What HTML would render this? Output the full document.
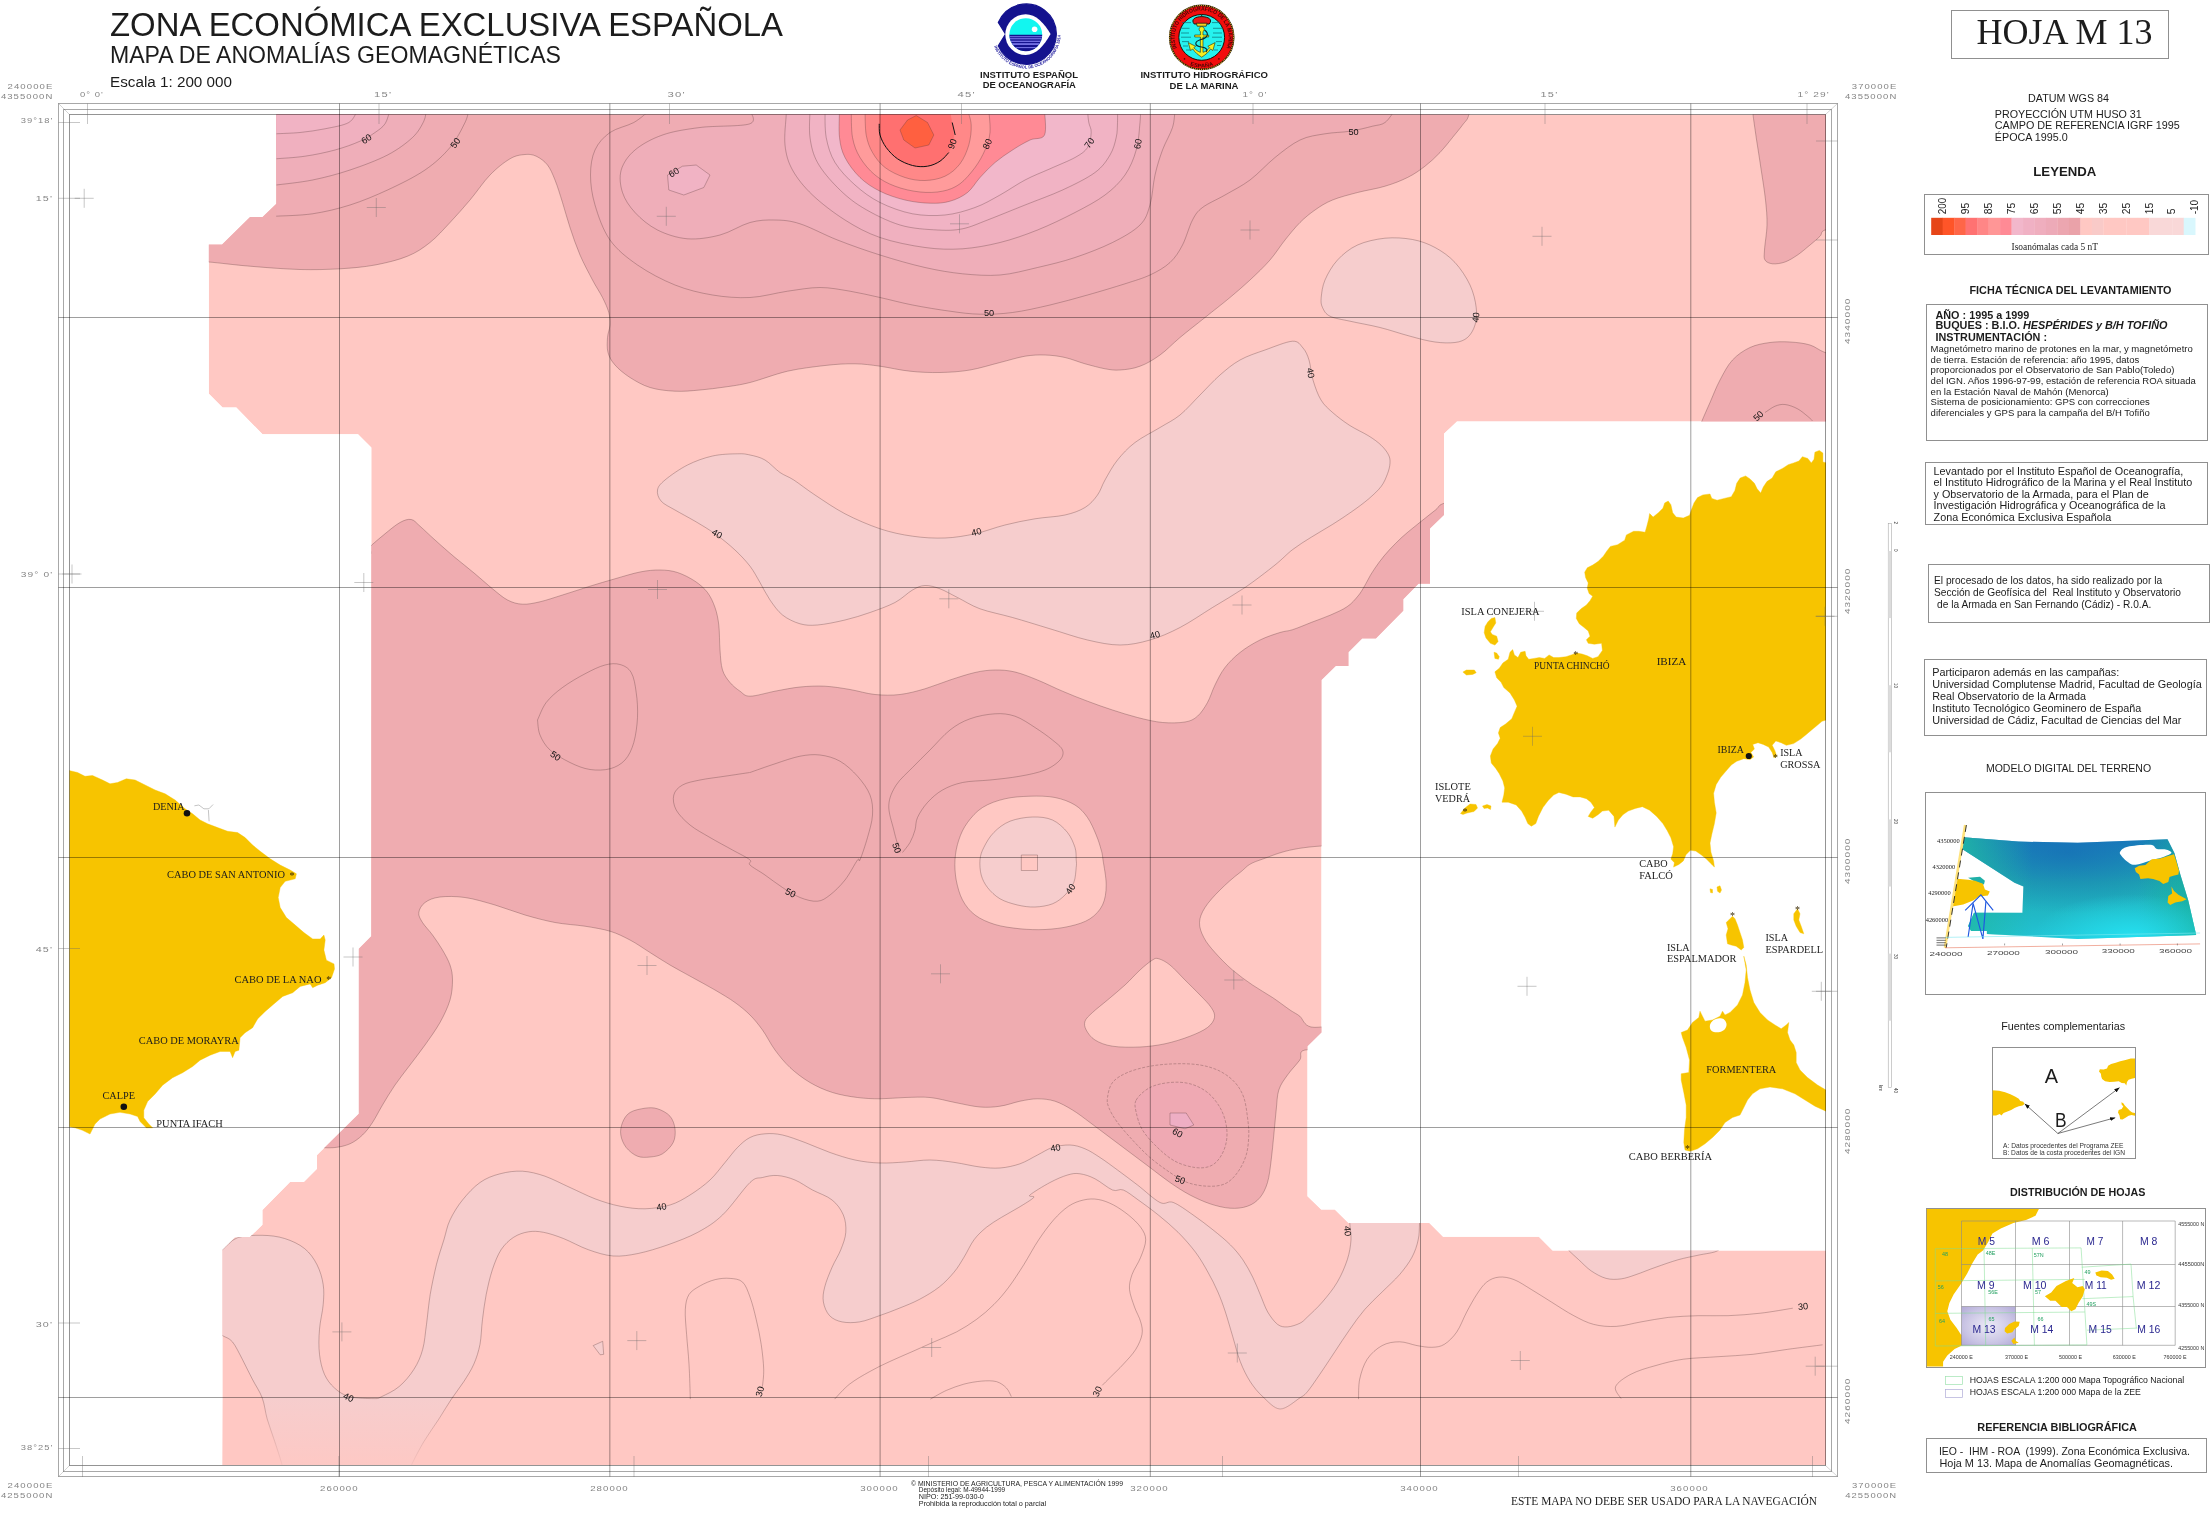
<!DOCTYPE html>
<html><head><meta charset="utf-8"><title>ZEE M13</title>
<style>
html,body{margin:0;padding:0;background:#fff;}
body{width:2210px;height:1519px;overflow:hidden;font-family:"Liberation Sans",sans-serif;}
svg{position:absolute;left:0;top:0;display:block;will-change:transform}
text{font-family:"Liberation Sans",sans-serif;fill:#1c1c1c}
.se{font-family:"Liberation Serif",serif}
.g{fill:#858585;font-size:8px;letter-spacing:0.9px}
.cl{font-size:9.2px;fill:#111}
.b{font-weight:bold}
</style></head><body>
<svg width="2210" height="1519" viewBox="0 0 2210 1519">
<defs>
<clipPath id="cov"><path d="M276.3,114.5 L1826.0,114.5 L1826.0,421.5 L1457.0,421.5 L1444.0,433.7 L1444.0,514.9 L1430.0,528.6 L1430.0,583.8 L1418.5,583.8 L1403.3,599.2 L1403.3,610.7 L1375.9,638.6 L1362.2,638.6 L1348.5,652.3 L1348.5,666.0 L1335.8,666.0 L1321.5,680.0 L1321.5,1032.5 L1307.5,1046.2 L1307.5,1196.2 L1321.2,1209.4 L1334.8,1209.4 L1348.5,1223.1 L1429.4,1223.1 L1443.1,1236.8 L1538.9,1236.8 L1552.6,1250.5 L1826.0,1250.5 L1826.0,1465.0 L222.4,1465.0 L222.4,1249.7 L234.8,1237.3 L249.8,1237.0 L262.4,1224.8 L262.4,1210.0 L290.0,1182.0 L303.8,1182.0 L317.0,1168.8 L317.0,1155.0 L358.8,1113.8 L358.8,948.8 L371.2,936.2 L371.3,447.5 L358.0,434.3 L262.5,434.3 L236.3,407.5 L222.5,407.5 L208.8,393.8 L208.8,244.5 L222.0,244.5 L250.0,217.0 L262.5,217.0 L276.3,203.8Z"/></clipPath>
<clipPath id="inner"><rect x="69.5" y="114.5" width="1756.5" height="1351"/></clipPath>
<linearGradient id="fade" x1="0" y1="0" x2="0" y2="1"><stop offset="0" stop-color="#FFC8C3" stop-opacity="0"/><stop offset="1" stop-color="#FFC8C3" stop-opacity="0.85"/></linearGradient>
</defs>
<rect width="2210" height="1519" fill="#fff"/>

<g clip-path="url(#cov)">
<path d="M276.3,114.5 L1826.0,114.5 L1826.0,421.5 L1457.0,421.5 L1444.0,433.7 L1444.0,514.9 L1430.0,528.6 L1430.0,583.8 L1418.5,583.8 L1403.3,599.2 L1403.3,610.7 L1375.9,638.6 L1362.2,638.6 L1348.5,652.3 L1348.5,666.0 L1335.8,666.0 L1321.5,680.0 L1321.5,1032.5 L1307.5,1046.2 L1307.5,1196.2 L1321.2,1209.4 L1334.8,1209.4 L1348.5,1223.1 L1429.4,1223.1 L1443.1,1236.8 L1538.9,1236.8 L1552.6,1250.5 L1826.0,1250.5 L1826.0,1465.0 L222.4,1465.0 L222.4,1249.7 L234.8,1237.3 L249.8,1237.0 L262.4,1224.8 L262.4,1210.0 L290.0,1182.0 L303.8,1182.0 L317.0,1168.8 L317.0,1155.0 L358.8,1113.8 L358.8,948.8 L371.2,936.2 L371.3,447.5 L358.0,434.3 L262.5,434.3 L236.3,407.5 L222.5,407.5 L208.8,393.8 L208.8,244.5 L222.0,244.5 L250.0,217.0 L262.5,217.0 L276.3,203.8Z" fill="#FFC8C3"/>
<path d="M190.0,90.0 C403.1,90.0 1255.6,85.9 1468.8,90.0 C1681.9,94.1 1469.8,108.7 1468.8,114.5 C1467.7,120.3 1465.2,121.2 1462.5,125.0 C1459.8,128.8 1456.2,132.9 1452.5,137.5 C1448.8,142.1 1444.6,147.7 1440.0,152.5 C1435.4,157.3 1430.4,162.1 1425.0,166.2 C1419.6,170.4 1414.2,174.2 1407.5,177.5 C1400.8,180.8 1393.3,183.8 1385.0,186.2 C1376.7,188.8 1366.2,190.2 1357.5,192.5 C1348.8,194.8 1339.6,197.1 1332.5,200.0 C1325.4,202.9 1320.4,206.2 1315.0,210.0 C1309.6,213.8 1305.0,217.5 1300.0,222.5 C1295.0,227.5 1290.0,233.8 1285.0,240.0 C1280.0,246.2 1275.8,253.3 1270.0,260.0 C1264.2,266.7 1256.7,273.8 1250.0,280.0 C1243.3,286.2 1237.5,291.2 1230.0,297.5 C1222.5,303.8 1213.3,310.8 1205.0,317.5 C1196.7,324.2 1187.5,331.2 1180.0,337.5 C1172.5,343.8 1166.7,350.2 1160.0,355.0 C1153.3,359.8 1146.7,363.8 1140.0,366.2 C1133.3,368.8 1125.8,369.6 1120.0,370.0 C1114.2,370.4 1110.8,369.8 1105.0,368.8 C1099.2,367.7 1091.7,365.6 1085.0,363.8 C1078.3,361.9 1071.7,359.0 1065.0,357.5 C1058.3,356.0 1051.7,355.2 1045.0,355.0 C1038.3,354.8 1032.5,355.0 1025.0,356.2 C1017.5,357.5 1009.2,360.2 1000.0,362.5 C990.8,364.8 980.0,368.3 970.0,370.0 C960.0,371.7 950.0,372.3 940.0,372.5 C930.0,372.7 920.0,372.3 910.0,371.2 C900.0,370.2 889.2,367.5 880.0,366.2 C870.8,365.0 864.2,363.9 855.0,363.8 C845.8,363.6 836.2,364.2 825.0,365.5 C813.8,366.8 800.0,368.4 787.5,371.2 C775.0,374.1 760.4,379.9 750.0,382.5 C739.6,385.1 733.3,385.8 725.0,387.0 C716.7,388.2 708.3,389.3 700.0,390.0 C691.7,390.7 683.3,391.7 675.0,391.2 C666.7,390.8 657.5,389.8 650.0,387.5 C642.5,385.2 635.8,381.2 630.0,377.5 C624.2,373.8 618.7,369.2 615.0,365.0 C611.3,360.8 609.2,357.1 608.0,352.5 C606.8,347.9 607.2,342.1 607.5,337.5 C607.8,332.9 609.8,329.2 610.0,325.0 C610.2,320.8 610.0,317.1 608.8,312.5 C607.5,307.9 605.2,302.9 602.5,297.5 C599.8,292.1 596.2,287.1 592.5,280.0 C588.8,272.9 583.8,263.8 580.0,255.0 C576.2,246.2 572.9,236.2 570.0,227.5 C567.1,218.8 565.0,210.4 562.5,202.5 C560.0,194.6 557.5,186.2 555.0,180.0 C552.5,173.8 550.6,169.0 547.5,165.0 C544.4,161.0 540.0,158.0 536.2,156.2 C532.5,154.5 529.4,154.1 525.0,154.5 C520.6,154.9 515.8,155.3 510.0,158.8 C504.2,162.2 496.7,168.1 490.0,175.0 C483.3,181.9 476.7,192.1 470.0,200.0 C463.3,207.9 456.7,215.4 450.0,222.5 C443.3,229.6 437.1,236.9 430.0,242.5 C422.9,248.1 416.7,252.5 407.5,256.2 C398.3,260.0 386.2,262.9 375.0,265.0 C363.8,267.1 352.5,268.0 340.0,268.8 C327.5,269.5 315.0,269.9 300.0,269.5 C285.0,269.1 265.2,267.5 250.0,266.2 C234.8,265.0 218.8,262.8 208.8,262.0 C198.8,261.2 193.1,261.4 190.0,261.2Z" fill="#EFACB0" stroke="#5a3a3a" stroke-opacity="0.55" stroke-width="0.6"/>
<path d="M357.5,557.5 C379.4,557.6 366.7,549.5 371.2,545.5 C375.8,541.5 380.2,537.6 385.0,533.8 C389.8,529.9 395.6,524.9 400.0,522.5 C404.4,520.1 407.9,518.9 411.2,519.5 C414.6,520.1 416.0,522.8 420.0,526.2 C424.0,529.7 429.2,534.8 435.0,540.0 C440.8,545.2 448.3,551.9 455.0,557.5 C461.7,563.1 468.8,568.5 475.0,573.8 C481.2,579.0 487.1,584.4 492.5,588.8 C497.9,593.1 502.5,597.4 507.5,600.0 C512.5,602.6 517.1,604.0 522.5,604.2 C527.9,604.5 533.3,603.3 540.0,601.8 C546.7,600.2 554.2,597.6 562.5,595.0 C570.8,592.4 581.2,589.0 590.0,586.2 C598.8,583.5 606.7,581.1 615.0,578.8 C623.3,576.4 632.5,573.5 640.0,572.0 C647.5,570.5 653.8,569.9 660.0,570.0 C666.2,570.1 671.7,570.6 677.5,572.5 C683.3,574.4 690.0,577.9 695.0,581.2 C700.0,584.6 704.2,588.1 707.5,592.5 C710.8,596.9 713.1,602.1 715.0,607.5 C716.9,612.9 717.9,617.9 718.8,625.0 C719.6,632.1 719.4,642.5 720.0,650.0 C720.6,657.5 720.8,664.6 722.5,670.0 C724.2,675.4 727.1,679.0 730.0,682.5 C732.9,686.0 736.7,689.0 740.0,691.2 C743.3,693.5 744.2,696.2 750.0,696.2 C755.8,696.2 766.7,692.8 775.0,691.2 C783.3,689.7 791.7,687.8 800.0,687.0 C808.3,686.2 816.7,685.8 825.0,686.2 C833.3,686.7 841.7,688.1 850.0,689.5 C858.3,690.9 866.7,693.7 875.0,694.5 C883.3,695.3 891.7,695.5 900.0,694.5 C908.3,693.5 916.7,691.2 925.0,688.8 C933.3,686.3 941.7,682.7 950.0,680.0 C958.3,677.3 967.5,674.2 975.0,672.5 C982.5,670.8 988.3,670.1 995.0,670.0 C1001.7,669.9 1007.9,670.3 1015.0,672.0 C1022.1,673.7 1029.6,676.8 1037.5,680.0 C1045.4,683.2 1054.2,687.7 1062.5,691.2 C1070.8,694.8 1079.2,698.1 1087.5,701.2 C1095.8,704.4 1104.2,707.3 1112.5,710.0 C1120.8,712.7 1129.2,715.4 1137.5,717.5 C1145.8,719.6 1154.6,721.8 1162.5,722.5 C1170.4,723.2 1179.2,723.0 1185.0,722.0 C1190.8,721.0 1193.8,719.5 1197.5,716.2 C1201.2,713.0 1204.6,707.7 1207.5,702.5 C1210.4,697.3 1212.1,690.8 1215.0,685.0 C1217.9,679.2 1220.8,672.9 1225.0,667.5 C1229.2,662.1 1234.2,657.1 1240.0,652.5 C1245.8,647.9 1253.3,643.3 1260.0,640.0 C1266.7,636.7 1274.6,634.2 1280.0,632.5 C1285.4,630.8 1287.4,631.4 1292.6,629.7 C1297.9,628.0 1305.3,624.8 1311.6,622.3 C1317.9,619.9 1324.6,617.6 1330.6,615.0 C1336.6,612.3 1342.9,609.7 1347.4,606.5 C1352.0,603.4 1355.2,599.3 1358.0,596.0 C1360.8,592.7 1362.2,590.0 1364.3,586.5 C1366.4,583.0 1368.2,579.0 1370.6,574.9 C1373.1,570.9 1375.9,566.5 1379.1,562.3 C1382.2,558.1 1385.7,553.8 1389.6,549.6 C1393.5,545.4 1398.0,540.9 1402.2,537.0 C1406.4,533.1 1411.0,529.6 1414.9,526.4 C1418.7,523.3 1421.9,520.8 1425.4,518.0 C1428.9,515.2 1432.9,512.0 1436.0,509.6 C1439.0,507.1 1438.3,505.0 1444.0,503.3 C1449.6,501.5 1463.7,499.6 1469.7,499.1 C1475.7,498.5 1478.3,442.2 1480.0,500.0 C1481.7,557.8 1506.4,788.3 1480.0,846.0 C1453.6,903.7 1358.2,843.7 1321.5,846.0 C1284.8,848.3 1273.6,855.6 1260.0,860.0 C1246.4,864.4 1246.7,867.5 1240.0,872.5 C1233.3,877.5 1225.8,884.2 1220.0,890.0 C1214.2,895.8 1208.4,902.1 1205.0,907.5 C1201.6,912.9 1199.7,917.5 1199.5,922.5 C1199.3,927.5 1201.2,932.5 1203.8,937.5 C1206.3,942.5 1210.2,947.1 1215.0,952.5 C1219.8,957.9 1226.2,964.6 1232.5,970.0 C1238.8,975.4 1245.8,980.4 1252.5,985.0 C1259.2,989.6 1266.2,993.3 1272.5,997.5 C1278.8,1001.7 1285.5,1006.9 1290.0,1010.0 C1294.5,1013.1 1296.2,1013.4 1299.8,1016.2 C1303.2,1019.1 1303.5,1025.2 1311.0,1027.0 C1318.5,1028.8 1339.3,1023.2 1345.0,1027.0 C1350.7,1030.8 1351.7,1046.2 1345.0,1050.0 C1338.3,1053.8 1312.5,1048.3 1305.0,1050.0 C1297.5,1051.7 1302.7,1055.8 1299.8,1060.0 C1296.8,1064.2 1291.0,1070.0 1287.5,1075.0 C1284.0,1080.0 1280.6,1084.2 1278.8,1090.0 C1276.9,1095.8 1277.1,1102.5 1276.2,1110.0 C1275.4,1117.5 1274.6,1126.7 1273.8,1135.0 C1272.9,1143.3 1272.3,1152.1 1271.2,1160.0 C1270.2,1167.9 1269.4,1176.2 1267.5,1182.5 C1265.6,1188.8 1263.3,1193.5 1260.0,1197.5 C1256.7,1201.5 1252.5,1204.5 1247.5,1206.2 C1242.5,1208.0 1236.2,1208.7 1230.0,1208.2 C1223.8,1207.8 1216.7,1206.0 1210.0,1203.8 C1203.3,1201.5 1196.7,1198.5 1190.0,1195.0 C1183.3,1191.5 1176.7,1187.1 1170.0,1182.5 C1163.3,1177.9 1156.7,1172.5 1150.0,1167.5 C1143.3,1162.5 1136.7,1157.5 1130.0,1152.5 C1123.3,1147.5 1116.7,1142.5 1110.0,1137.5 C1103.3,1132.5 1096.2,1127.1 1090.0,1122.5 C1083.8,1117.9 1078.3,1113.5 1072.5,1110.0 C1066.7,1106.5 1060.8,1103.1 1055.0,1101.2 C1049.2,1099.4 1043.3,1098.8 1037.5,1098.8 C1031.7,1098.8 1026.2,1100.0 1020.0,1101.2 C1013.8,1102.5 1006.7,1105.3 1000.0,1106.2 C993.3,1107.2 987.5,1107.6 980.0,1107.0 C972.5,1106.4 963.3,1104.1 955.0,1102.5 C946.7,1100.9 938.3,1098.3 930.0,1097.5 C921.7,1096.7 913.3,1097.3 905.0,1097.5 C896.7,1097.7 887.9,1098.8 880.0,1098.8 C872.1,1098.8 865.4,1098.5 857.5,1097.5 C849.6,1096.5 840.4,1095.0 832.5,1092.5 C824.6,1090.0 817.1,1086.7 810.0,1082.5 C802.9,1078.3 795.8,1072.9 790.0,1067.5 C784.2,1062.1 779.6,1056.2 775.0,1050.0 C770.4,1043.8 766.7,1035.8 762.5,1030.0 C758.3,1024.2 754.6,1019.6 750.0,1015.0 C745.4,1010.4 740.8,1006.7 735.0,1002.5 C729.2,998.3 722.1,994.2 715.0,990.0 C707.9,985.8 700.0,981.7 692.5,977.5 C685.0,973.3 677.1,969.2 670.0,965.0 C662.9,960.8 656.7,956.7 650.0,952.5 C643.3,948.3 636.7,943.5 630.0,940.0 C623.3,936.5 617.5,933.5 610.0,931.2 C602.5,929.0 594.2,927.7 585.0,926.2 C575.8,924.8 565.0,924.4 555.0,922.5 C545.0,920.6 535.0,917.9 525.0,915.0 C515.0,912.1 505.0,907.9 495.0,905.0 C485.0,902.1 474.2,898.8 465.0,897.5 C455.8,896.2 446.7,896.2 440.0,897.0 C433.3,897.8 428.5,899.9 425.0,902.5 C421.5,905.1 419.2,909.2 418.8,912.5 C418.3,915.8 420.2,918.8 422.5,922.5 C424.8,926.2 429.2,930.4 432.5,935.0 C435.8,939.6 439.6,945.0 442.5,950.0 C445.4,955.0 448.3,960.0 450.0,965.0 C451.7,970.0 452.5,974.2 452.5,980.0 C452.5,985.8 452.1,992.9 450.0,1000.0 C447.9,1007.1 444.2,1015.0 440.0,1022.5 C435.8,1030.0 430.0,1037.9 425.0,1045.0 C420.0,1052.1 415.0,1058.3 410.0,1065.0 C405.0,1071.7 399.6,1078.3 395.0,1085.0 C390.4,1091.7 386.2,1098.8 382.5,1105.0 C378.8,1111.2 375.8,1117.5 372.5,1122.5 C369.2,1127.5 366.2,1131.5 362.5,1135.0 C358.8,1138.5 354.6,1141.7 350.0,1143.8 C345.4,1145.8 340.4,1146.9 335.0,1147.5 C329.6,1148.1 320.4,1147.5 317.5,1147.5 C314.6,1147.5 330.4,1147.5 317.5,1147.5 C304.6,1147.5 252.9,1147.5 240.0,1147.5 C227.1,1147.5 240.0,1247.9 240.0,1147.5 C240.0,1047.1 240.0,645.4 240.0,545.0 C240.0,444.6 220.4,542.9 240.0,545.0 C259.6,547.1 335.6,557.4 357.5,557.5Z" fill="#EFACB0" stroke="#5a3a3a" stroke-opacity="0.55" stroke-width="0.6"/>
<path d="M1753.0,110.0 C1753.0,110.8 1752.5,109.9 1753.0,114.5 C1753.5,119.1 1754.9,128.2 1756.2,137.5 C1757.6,146.8 1759.7,159.6 1761.2,170.0 C1762.8,180.4 1764.5,190.8 1765.5,200.0 C1766.5,209.2 1767.2,216.7 1767.0,225.0 C1766.8,233.3 1764.8,244.2 1764.5,250.0 C1764.2,255.8 1763.7,257.7 1765.0,260.0 C1766.3,262.3 1769.2,263.4 1772.5,263.8 C1775.8,264.1 1780.8,263.5 1785.0,262.0 C1789.2,260.5 1793.3,257.8 1797.5,255.0 C1801.7,252.2 1806.2,248.1 1810.0,245.0 C1813.8,241.9 1817.5,238.8 1820.0,236.2 C1822.5,233.8 1820.0,231.9 1825.0,230.0 C1830.0,228.1 1845.8,245.0 1850.0,225.0 C1854.2,205.0 1850.0,129.2 1850.0,110.0Z" fill="#EFACB0" stroke="#5a3a3a" stroke-opacity="0.55" stroke-width="0.6"/>
<path d="M1697.5,432.5 C1698.2,430.5 1699.9,425.8 1702.0,420.8 C1704.1,415.8 1707.0,409.3 1710.0,402.5 C1713.0,395.7 1716.2,387.1 1720.0,380.0 C1723.8,372.9 1727.5,365.4 1732.5,360.0 C1737.5,354.6 1743.8,350.4 1750.0,347.5 C1756.2,344.6 1763.3,343.4 1770.0,342.5 C1776.7,341.6 1783.3,341.6 1790.0,342.0 C1796.7,342.4 1804.2,343.2 1810.0,345.0 C1815.8,346.8 1818.3,350.0 1825.0,352.5 C1831.7,355.0 1845.8,346.7 1850.0,360.0 C1854.2,373.3 1850.0,420.4 1850.0,432.5Z" fill="#EFACB0" stroke="#5a3a3a" stroke-opacity="0.55" stroke-width="0.6"/>
<path d="M622.5,1122.5 C624.0,1118.8 626.2,1114.9 630.0,1112.5 C633.8,1110.1 640.4,1108.9 645.0,1108.2 C649.6,1107.6 653.3,1107.4 657.5,1108.8 C661.7,1110.1 667.1,1112.9 670.0,1116.2 C672.9,1119.6 674.5,1124.4 675.0,1128.8 C675.5,1133.1 675.3,1138.3 673.2,1142.5 C671.2,1146.7 666.4,1151.3 662.5,1153.8 C658.6,1156.2 654.2,1156.6 650.0,1157.0 C645.8,1157.4 641.5,1157.8 637.5,1156.2 C633.5,1154.7 629.0,1151.0 626.2,1147.5 C623.5,1144.0 621.4,1139.2 620.8,1135.0 C620.1,1130.8 621.0,1126.2 622.5,1122.5Z" fill="#EFACB0" stroke="#5a3a3a" stroke-opacity="0.55" stroke-width="0.6"/>
<path d="M1158.8,958.8 C1161.7,959.6 1165.6,961.5 1170.0,965.0 C1174.4,968.5 1180.0,975.0 1185.0,980.0 C1190.0,985.0 1195.6,990.4 1200.0,995.0 C1204.4,999.6 1208.8,1003.8 1211.2,1007.5 C1213.7,1011.2 1215.1,1014.2 1214.5,1017.5 C1213.9,1020.8 1211.6,1024.4 1207.5,1027.5 C1203.4,1030.6 1197.1,1033.5 1190.0,1036.2 C1182.9,1039.0 1173.3,1042.0 1165.0,1043.8 C1156.7,1045.5 1148.8,1046.6 1140.0,1047.0 C1131.2,1047.4 1120.0,1047.4 1112.5,1046.2 C1105.0,1045.1 1099.4,1042.7 1095.0,1040.0 C1090.6,1037.3 1087.9,1033.1 1086.2,1030.0 C1084.6,1026.9 1084.0,1024.2 1085.0,1021.2 C1086.0,1018.3 1088.8,1016.0 1092.5,1012.5 C1096.2,1009.0 1102.1,1004.6 1107.5,1000.0 C1112.9,995.4 1119.6,990.0 1125.0,985.0 C1130.4,980.0 1135.4,974.2 1140.0,970.0 C1144.6,965.8 1149.4,961.9 1152.5,960.0 C1155.6,958.1 1155.8,957.9 1158.8,958.8Z" fill="#FFC8C3" stroke="#5a3a3a" stroke-opacity="0.55" stroke-width="0.6"/>
<path d="M955.0,859.8 C955.4,853.1 956.7,846.2 958.8,840.0 C960.8,833.8 963.5,827.9 967.5,822.5 C971.5,817.1 976.2,811.5 982.5,807.5 C988.8,803.5 997.1,800.6 1005.0,798.8 C1012.9,796.9 1021.7,796.5 1030.0,796.2 C1038.3,796.0 1047.5,796.0 1055.0,797.5 C1062.5,799.0 1069.6,801.7 1075.0,805.0 C1080.4,808.3 1084.0,812.5 1087.5,817.5 C1091.0,822.5 1094.0,829.6 1096.2,835.0 C1098.5,840.4 1100.1,845.9 1101.2,850.0 C1102.4,854.1 1102.2,853.9 1103.0,859.8 C1103.8,865.6 1106.3,877.5 1106.2,885.0 C1106.2,892.5 1105.2,899.4 1102.5,905.0 C1099.8,910.6 1095.4,915.2 1090.0,918.8 C1084.6,922.3 1077.5,924.5 1070.0,926.2 C1062.5,928.0 1053.3,929.1 1045.0,929.5 C1036.7,929.9 1028.3,929.6 1020.0,928.8 C1011.7,927.9 1002.5,926.8 995.0,924.5 C987.5,922.2 980.4,919.1 975.0,915.0 C969.6,910.9 965.6,905.8 962.5,900.0 C959.4,894.2 957.5,886.7 956.2,880.0 C955.0,873.3 954.6,866.4 955.0,859.8Z" fill="#FFC8C3" stroke="#5a3a3a" stroke-opacity="0.55" stroke-width="0.6"/>
<path d="M980.0,859.8 C980.4,855.2 981.5,852.0 983.8,847.5 C986.0,843.0 989.4,836.9 993.8,832.5 C998.1,828.1 1003.5,823.8 1010.0,821.2 C1016.5,818.7 1025.4,817.2 1032.5,817.0 C1039.6,816.8 1046.7,817.4 1052.5,820.0 C1058.3,822.6 1063.8,827.9 1067.5,832.5 C1071.2,837.1 1073.5,843.0 1075.0,847.5 C1076.5,852.0 1076.0,856.4 1076.2,859.8 C1076.5,863.1 1076.7,863.7 1076.2,867.5 C1075.8,871.3 1075.6,877.9 1073.8,882.5 C1071.9,887.1 1068.5,891.5 1065.0,895.0 C1061.5,898.5 1057.5,901.8 1052.5,903.8 C1047.5,905.8 1040.8,906.8 1035.0,907.0 C1029.2,907.2 1023.3,906.4 1017.5,905.0 C1011.7,903.6 1005.0,901.7 1000.0,898.8 C995.0,895.8 990.6,891.5 987.5,887.5 C984.4,883.5 982.5,879.6 981.2,875.0 C980.0,870.4 979.6,864.3 980.0,859.8Z" fill="#F6CDCD" stroke="#5a3a3a" stroke-opacity="0.55" stroke-width="0.6"/>
<path d="M1021.3,855.0 L1037.5,855.0 L1037.5,870.5 L1021.3,870.5Z" fill="#FFC8C3" stroke="#5a3a3a" stroke-opacity="0.55" stroke-width="0.6"/>
<path d="M657.5,490.0 C658.1,486.5 660.0,484.2 665.0,480.0 C670.0,475.8 679.6,469.0 687.5,465.0 C695.4,461.0 704.2,457.9 712.5,456.0 C720.8,454.1 731.2,453.9 737.5,453.8 C743.8,453.6 745.4,454.0 750.0,455.0 C754.6,456.0 760.0,457.1 765.0,460.0 C770.0,462.9 775.2,469.2 780.0,472.5 C784.8,475.8 787.9,476.2 793.8,480.0 C799.6,483.8 806.5,489.4 815.0,495.0 C823.5,500.6 834.2,508.1 845.0,513.8 C855.8,519.4 868.8,525.0 880.0,528.8 C891.2,532.5 901.7,534.7 912.5,536.2 C923.3,537.8 934.6,538.4 945.0,538.0 C955.4,537.6 965.0,535.9 975.0,533.8 C985.0,531.6 995.0,527.5 1005.0,525.0 C1015.0,522.5 1025.0,520.4 1035.0,518.8 C1045.0,517.1 1056.7,516.9 1065.0,515.0 C1073.3,513.1 1079.6,510.8 1085.0,507.5 C1090.4,504.2 1094.2,499.6 1097.5,495.0 C1100.8,490.4 1101.7,485.8 1105.0,480.0 C1108.3,474.2 1112.5,466.2 1117.5,460.0 C1122.5,453.8 1127.9,447.9 1135.0,442.5 C1142.1,437.1 1152.5,432.1 1160.0,427.5 C1167.5,422.9 1173.3,420.4 1180.0,415.0 C1186.7,409.6 1193.3,401.7 1200.0,395.0 C1206.7,388.3 1213.3,380.8 1220.0,375.0 C1226.7,369.2 1232.5,364.2 1240.0,360.0 C1247.5,355.8 1256.2,353.1 1265.0,350.0 C1273.8,346.9 1286.2,341.6 1292.5,341.2 C1298.8,340.9 1300.2,344.9 1303.0,348.0 C1305.8,351.1 1307.3,354.7 1309.0,360.0 C1310.7,365.3 1311.0,373.3 1313.0,380.0 C1315.0,386.7 1317.7,394.6 1321.0,400.0 C1324.3,405.4 1328.0,408.4 1332.7,412.6 C1337.5,416.8 1343.5,421.4 1349.5,425.3 C1355.5,429.2 1363.2,432.5 1368.5,435.8 C1373.8,439.1 1377.9,442.1 1381.2,445.3 C1384.5,448.5 1387.0,451.8 1388.5,454.8 C1390.0,457.8 1390.2,460.0 1390.0,463.2 C1389.8,466.4 1389.0,469.9 1387.5,473.8 C1386.0,477.7 1384.4,482.2 1381.2,486.4 C1378.0,490.6 1373.4,494.8 1368.5,499.0 C1363.6,503.2 1357.7,507.5 1351.7,511.7 C1345.7,515.9 1339.4,520.1 1332.7,524.3 C1326.0,528.5 1318.3,532.8 1311.6,537.0 C1304.9,541.2 1298.7,544.9 1292.6,549.6 C1286.5,554.3 1282.9,558.7 1275.0,565.0 C1267.1,571.3 1255.4,580.4 1245.0,587.5 C1234.6,594.6 1223.3,600.8 1212.5,607.5 C1201.7,614.2 1190.4,622.1 1180.0,627.5 C1169.6,632.9 1160.0,637.1 1150.0,640.0 C1140.0,642.9 1130.4,645.0 1120.0,645.0 C1109.6,645.0 1099.2,642.7 1087.5,640.0 C1075.8,637.3 1062.5,632.5 1050.0,628.8 C1037.5,625.0 1024.2,620.8 1012.5,617.5 C1000.8,614.2 989.2,612.1 980.0,608.8 C970.8,605.4 964.2,600.8 957.5,597.5 C950.8,594.2 945.4,590.8 940.0,588.8 C934.6,586.8 929.6,585.3 925.0,585.5 C920.4,585.7 917.5,587.2 912.5,590.0 C907.5,592.8 902.1,598.8 895.0,602.5 C887.9,606.2 878.3,609.6 870.0,612.5 C861.7,615.4 853.8,617.9 845.0,620.0 C836.2,622.1 825.0,624.4 817.5,625.0 C810.0,625.6 805.8,625.4 800.0,623.8 C794.2,622.1 787.5,619.0 782.5,615.0 C777.5,611.0 773.8,605.4 770.0,600.0 C766.2,594.6 763.3,588.1 760.0,582.5 C756.7,576.9 754.2,571.7 750.0,566.2 C745.8,560.8 740.8,555.4 735.0,550.0 C729.2,544.6 721.7,538.5 715.0,533.8 C708.3,529.0 701.7,525.2 695.0,521.2 C688.3,517.3 680.6,513.3 675.0,510.0 C669.4,506.7 664.2,504.6 661.2,501.2 C658.3,497.9 656.9,493.5 657.5,490.0Z" fill="#F6CDCD" stroke="#5a3a3a" stroke-opacity="0.55" stroke-width="0.6"/>
<path d="M1321.2,297.5 C1321.7,292.9 1322.3,286.2 1325.0,280.0 C1327.7,273.8 1332.1,265.8 1337.5,260.0 C1342.9,254.2 1349.6,248.6 1357.5,245.0 C1365.4,241.4 1375.8,239.2 1385.0,238.2 C1394.2,237.3 1404.2,238.0 1412.5,239.5 C1420.8,241.0 1427.9,243.7 1435.0,247.5 C1442.1,251.3 1449.2,256.2 1455.0,262.5 C1460.8,268.8 1466.5,277.5 1470.0,285.0 C1473.5,292.5 1475.4,300.8 1476.2,307.5 C1477.1,314.2 1476.5,320.0 1475.0,325.0 C1473.5,330.0 1470.8,334.6 1467.5,337.5 C1464.2,340.4 1460.4,341.8 1455.0,342.5 C1449.6,343.2 1442.5,343.0 1435.0,342.0 C1427.5,341.0 1419.2,338.7 1410.0,336.2 C1400.8,333.8 1390.0,330.0 1380.0,327.5 C1370.0,325.0 1358.3,323.1 1350.0,321.2 C1341.7,319.4 1334.6,318.5 1330.0,316.2 C1325.4,314.0 1324.0,310.6 1322.5,307.5 C1321.0,304.4 1320.8,302.1 1321.2,297.5Z" fill="#F6CDCD" stroke="#5a3a3a" stroke-opacity="0.55" stroke-width="0.6"/>
<path d="M1558.8,1239.8 C1560.5,1241.6 1565.5,1247.2 1568.8,1250.5 C1572.1,1253.8 1575.0,1256.3 1578.7,1259.7 C1582.5,1263.1 1586.6,1267.8 1591.2,1270.9 C1595.8,1274.0 1601.1,1277.0 1606.1,1278.4 C1611.1,1279.7 1616.1,1279.5 1621.1,1278.9 C1626.0,1278.2 1630.2,1276.6 1636.0,1274.6 C1641.8,1272.7 1648.8,1269.6 1655.9,1267.2 C1663.0,1264.7 1671.2,1261.7 1678.3,1259.7 C1685.3,1257.7 1691.6,1256.7 1698.2,1255.2 C1704.8,1253.7 1714.0,1253.0 1718.1,1250.5 C1722.3,1247.9 1722.3,1241.6 1723.1,1239.8Z" fill="#F6CDCD" stroke="#5a3a3a" stroke-opacity="0.55" stroke-width="0.6"/>
<path d="M210.0,1259.7 C212.0,1246.4 217.8,1253.4 222.4,1249.7 C227.0,1246.1 230.7,1240.2 237.3,1237.8 C244.0,1235.4 254.3,1235.2 262.2,1235.3 C270.1,1235.4 277.6,1236.3 284.6,1238.5 C291.7,1240.7 299.1,1244.1 304.5,1248.5 C309.9,1252.8 313.9,1258.6 317.0,1264.7 C320.1,1270.7 322.2,1277.9 323.2,1284.6 C324.2,1291.2 323.8,1297.0 323.2,1304.5 C322.6,1312.0 320.1,1321.1 319.5,1329.4 C318.8,1337.7 318.6,1346.8 319.5,1354.3 C320.3,1361.7 322.0,1368.6 324.4,1374.2 C326.9,1379.8 330.2,1384.1 334.4,1387.9 C338.5,1391.6 342.7,1394.8 349.3,1396.6 C356.0,1398.4 368.8,1398.6 374.2,1398.6 C379.6,1398.6 377.5,1398.6 381.7,1396.6 C385.8,1394.6 393.7,1391.2 399.1,1386.6 C404.5,1382.1 410.1,1375.4 414.0,1369.2 C418.0,1363.0 420.7,1356.7 422.7,1349.3 C424.8,1341.8 425.2,1333.5 426.5,1324.4 C427.7,1315.3 428.6,1304.5 430.2,1294.5 C431.9,1284.6 434.2,1273.8 436.4,1264.7 C438.7,1255.5 441.6,1247.2 443.9,1239.8 C446.2,1232.3 446.9,1226.6 450.0,1220.0 C453.1,1213.4 457.5,1206.2 462.5,1200.0 C467.5,1193.8 473.8,1186.9 480.0,1182.5 C486.2,1178.1 492.9,1175.6 500.0,1173.8 C507.1,1171.9 515.0,1170.8 522.5,1171.2 C530.0,1171.7 537.1,1173.5 545.0,1176.2 C552.9,1179.0 561.7,1183.8 570.0,1187.5 C578.3,1191.2 586.7,1195.6 595.0,1198.8 C603.3,1201.9 611.7,1204.6 620.0,1206.2 C628.3,1207.9 636.7,1209.0 645.0,1208.8 C653.3,1208.5 662.5,1207.3 670.0,1205.0 C677.5,1202.7 683.3,1199.2 690.0,1195.0 C696.7,1190.8 704.2,1185.4 710.0,1180.0 C715.8,1174.6 720.4,1167.9 725.0,1162.5 C729.6,1157.1 733.3,1151.7 737.5,1147.5 C741.7,1143.3 745.4,1139.8 750.0,1137.5 C754.6,1135.2 759.6,1134.2 765.0,1133.8 C770.4,1133.3 775.8,1133.5 782.5,1135.0 C789.2,1136.5 797.1,1139.6 805.0,1142.5 C812.9,1145.4 821.7,1149.6 830.0,1152.5 C838.3,1155.4 846.7,1158.2 855.0,1160.0 C863.3,1161.8 871.7,1162.7 880.0,1163.0 C888.3,1163.3 896.7,1162.5 905.0,1162.0 C913.3,1161.5 921.7,1159.9 930.0,1160.0 C938.3,1160.1 946.7,1161.3 955.0,1162.5 C963.3,1163.7 972.5,1166.1 980.0,1167.0 C987.5,1167.9 993.3,1168.5 1000.0,1168.0 C1006.7,1167.5 1013.8,1165.9 1020.0,1163.8 C1026.2,1161.6 1032.1,1157.7 1037.5,1155.0 C1042.9,1152.3 1047.1,1149.2 1052.5,1147.5 C1057.9,1145.8 1064.6,1144.8 1070.0,1145.0 C1075.4,1145.2 1080.0,1146.7 1085.0,1148.8 C1090.0,1150.8 1094.6,1154.0 1100.0,1157.5 C1105.4,1161.0 1111.2,1165.4 1117.5,1170.0 C1123.8,1174.6 1130.4,1179.6 1137.5,1185.0 C1144.6,1190.4 1154.1,1199.6 1160.0,1202.5 C1165.9,1205.4 1167.6,1200.4 1173.1,1202.4 C1178.6,1204.5 1186.4,1210.3 1193.0,1214.9 C1199.6,1219.5 1206.7,1224.8 1212.9,1229.8 C1219.1,1234.8 1225.4,1239.8 1230.3,1244.8 C1235.3,1249.7 1239.0,1254.3 1242.8,1259.7 C1246.5,1265.1 1249.8,1271.3 1252.7,1277.1 C1255.6,1282.9 1257.7,1288.7 1260.2,1294.5 C1262.7,1300.3 1264.8,1307.0 1267.7,1312.0 C1270.6,1316.9 1274.3,1321.9 1277.6,1324.4 C1280.9,1326.9 1283.9,1327.1 1287.6,1326.9 C1291.3,1326.7 1296.7,1324.8 1300.0,1323.2 C1303.3,1321.5 1303.7,1320.5 1307.5,1316.9 C1311.2,1313.4 1317.4,1307.8 1322.4,1302.0 C1327.4,1296.2 1333.2,1289.1 1337.3,1282.1 C1341.5,1275.0 1345.0,1266.7 1347.3,1259.7 C1349.6,1252.6 1350.6,1245.9 1351.0,1239.8 C1351.4,1233.7 1350.0,1228.9 1349.8,1223.1 C1349.6,1217.3 1338.2,1208.0 1349.8,1204.9 C1361.4,1201.9 1407.8,1201.9 1419.5,1204.9 C1431.1,1208.0 1419.7,1217.3 1419.5,1223.1 C1419.3,1228.9 1419.5,1234.1 1418.2,1239.8 C1417.0,1245.5 1415.1,1251.4 1412.0,1257.2 C1408.9,1263.0 1404.5,1268.8 1399.6,1274.6 C1394.6,1280.4 1387.9,1286.2 1382.1,1292.0 C1376.3,1297.8 1370.1,1303.2 1364.7,1309.5 C1359.3,1315.7 1354.8,1322.3 1349.8,1329.4 C1344.8,1336.4 1339.8,1344.3 1334.8,1351.8 C1329.9,1359.2 1324.5,1367.5 1319.9,1374.2 C1315.3,1380.8 1310.8,1387.7 1307.5,1391.6 C1304.1,1395.5 1304.6,1394.9 1300.0,1397.8 C1295.4,1400.7 1286.3,1409.2 1280.1,1409.0 C1273.9,1408.8 1267.7,1401.1 1262.7,1396.6 C1257.7,1392.0 1254.0,1387.4 1250.2,1381.6 C1246.5,1375.8 1243.2,1369.2 1240.3,1361.7 C1237.4,1354.3 1235.3,1345.1 1232.8,1336.8 C1230.3,1328.5 1227.8,1319.4 1225.4,1312.0 C1222.9,1304.5 1220.8,1298.7 1217.9,1292.0 C1215.0,1285.4 1211.7,1278.8 1207.9,1272.1 C1204.2,1265.5 1200.5,1258.9 1195.5,1252.2 C1190.5,1245.6 1184.3,1238.5 1178.1,1232.3 C1171.9,1226.1 1164.8,1220.3 1158.2,1214.9 C1151.5,1209.5 1144.1,1204.1 1138.3,1200.0 C1132.4,1195.8 1127.6,1191.7 1123.3,1190.0 C1119.0,1188.3 1117.2,1191.9 1112.5,1190.0 C1107.8,1188.1 1100.4,1181.5 1095.0,1178.8 C1089.6,1176.0 1084.6,1174.4 1080.0,1173.8 C1075.4,1173.1 1072.5,1173.5 1067.5,1175.0 C1062.5,1176.5 1056.2,1179.2 1050.0,1182.5 C1043.8,1185.8 1032.7,1192.5 1030.0,1195.0 C1027.3,1197.5 1035.6,1195.4 1033.7,1197.5 C1031.9,1199.5 1024.2,1204.1 1018.8,1207.4 C1013.4,1210.7 1006.8,1214.1 1001.4,1217.4 C996.0,1220.7 991.0,1223.6 986.4,1227.3 C981.9,1231.1 977.7,1234.8 974.0,1239.8 C970.3,1244.8 967.4,1251.8 964.0,1257.2 C960.7,1262.6 958.2,1267.2 954.1,1272.1 C949.9,1277.1 945.0,1282.5 939.1,1287.1 C933.3,1291.6 925.9,1296.0 919.2,1299.5 C912.6,1303.0 906.0,1305.5 899.3,1308.2 C892.7,1310.9 886.1,1313.4 879.4,1315.7 C872.8,1318.0 865.7,1320.9 859.5,1321.9 C853.3,1322.9 847.1,1322.9 842.1,1321.9 C837.1,1320.9 832.8,1319.0 829.6,1315.7 C826.5,1312.4 824.2,1306.8 823.4,1302.0 C822.6,1297.2 823.2,1292.9 824.7,1287.1 C826.1,1281.3 829.4,1273.4 832.1,1267.2 C834.8,1260.9 838.6,1255.5 840.8,1249.7 C843.1,1243.9 845.4,1238.1 845.8,1232.3 C846.2,1226.5 845.6,1220.3 843.3,1214.9 C841.0,1209.5 837.3,1204.1 832.1,1200.0 C827.0,1195.8 818.7,1193.3 812.5,1190.0 C806.3,1186.7 800.8,1182.4 795.0,1180.0 C789.2,1177.6 782.9,1175.9 777.5,1175.5 C772.1,1175.1 767.1,1176.3 762.5,1177.5 C757.9,1178.7 756.6,1176.3 750.0,1182.5 C743.4,1188.7 731.4,1206.6 722.6,1214.9 C713.9,1223.2 706.9,1227.3 697.8,1232.3 C688.6,1237.3 677.8,1241.2 667.9,1244.8 C657.9,1248.3 647.2,1251.6 638.0,1253.5 C628.9,1255.3 621.4,1256.6 613.1,1256.0 C604.8,1255.3 596.5,1252.6 588.3,1249.7 C580.0,1246.8 570.8,1241.4 563.4,1238.5 C555.9,1235.6 549.3,1233.4 543.5,1232.3 C537.6,1231.2 533.5,1231.0 528.5,1231.8 C523.5,1232.6 518.2,1234.3 513.6,1237.3 C509.0,1240.3 504.7,1244.3 501.1,1249.7 C497.6,1255.1 494.9,1262.2 492.4,1269.6 C489.9,1277.1 487.9,1286.2 486.2,1294.5 C484.6,1302.8 483.5,1311.1 482.5,1319.4 C481.4,1327.7 481.4,1336.8 480.0,1344.3 C478.5,1351.8 476.5,1358.0 473.8,1364.2 C471.1,1370.4 467.5,1375.8 463.8,1381.6 C460.1,1387.4 455.5,1392.8 451.4,1399.1 C447.2,1405.3 443.5,1411.9 438.9,1419.0 C434.4,1426.0 428.6,1433.7 424.0,1441.4 C419.4,1449.0 414.0,1459.6 411.5,1465.0 C409.1,1470.4 430.4,1472.3 409.1,1473.7 C387.7,1475.2 304.5,1475.2 283.4,1473.7 C262.2,1472.3 283.6,1470.4 282.1,1465.0 C280.7,1459.6 277.2,1449.0 274.7,1441.4 C272.2,1433.7 269.3,1426.2 267.2,1419.0 C265.1,1411.7 264.7,1404.5 262.2,1397.8 C259.7,1391.2 255.6,1385.6 252.3,1379.1 C248.9,1372.7 245.6,1365.5 242.3,1359.2 C239.0,1353.0 235.7,1345.8 232.4,1341.8 C229.0,1337.9 226.1,1337.7 222.4,1335.6 C218.7,1333.5 212.0,1342.0 210.0,1329.4 C207.9,1316.7 207.9,1273.0 210.0,1259.7Z" fill="#F6CDCD" stroke="#5a3a3a" stroke-opacity="0.55" stroke-width="0.6"/>
<rect x="200" y="1398" width="1200" height="68" fill="url(#fade)"/>
<path d="M276.2,216.2 C282.3,215.8 300.2,215.6 312.5,213.8 C324.8,211.9 337.5,209.0 350.0,205.0 C362.5,201.0 375.0,195.8 387.5,190.0 C400.0,184.2 414.6,177.1 425.0,170.0 C435.4,162.9 443.3,155.4 450.0,147.5 C456.7,139.6 461.9,128.8 465.0,122.5 C468.1,116.2 468.1,112.1 468.8,110.0 L276.3,90 L276.3,216.2Z" fill="#EFACB3"/>
<path d="M276.2,216.2 C282.3,215.8 300.2,215.6 312.5,213.8 C324.8,211.9 337.5,209.0 350.0,205.0 C362.5,201.0 375.0,195.8 387.5,190.0 C400.0,184.2 414.6,177.1 425.0,170.0 C435.4,162.9 443.3,155.4 450.0,147.5 C456.7,139.6 461.9,128.8 465.0,122.5 C468.1,116.2 468.1,112.1 468.8,110.0" fill="none" stroke="#5a3a3a" stroke-opacity="0.55" stroke-width="0.6"/>
<path d="M650.0,110.0 C647.3,112.1 640.4,118.8 633.8,122.5 C627.1,126.2 616.5,127.9 610.0,132.5 C603.5,137.1 598.2,142.9 595.0,150.0 C591.8,157.1 590.5,165.8 590.5,175.0 C590.5,184.2 591.8,194.2 595.0,205.0 C598.2,215.8 602.9,230.0 610.0,240.0 C617.1,250.0 626.7,257.5 637.5,265.0 C648.3,272.5 662.5,280.0 675.0,285.0 C687.5,290.0 700.0,292.9 712.5,295.0 C725.0,297.1 737.5,298.1 750.0,297.5 C762.5,296.9 775.8,292.9 787.5,291.2 C799.2,289.6 809.6,287.5 820.0,287.5 C830.4,287.5 840.0,289.6 850.0,291.2 C860.0,292.9 869.6,295.2 880.0,297.5 C890.4,299.8 900.8,302.7 912.5,305.0 C924.2,307.3 938.8,309.7 950.0,311.2 C961.2,312.8 969.6,314.0 980.0,314.2 C990.4,314.5 1000.8,314.0 1012.5,312.5 C1024.2,311.0 1037.5,307.9 1050.0,305.0 C1062.5,302.1 1075.0,298.5 1087.5,295.0 C1100.0,291.5 1114.6,287.1 1125.0,283.8 C1135.4,280.4 1142.5,278.5 1150.0,275.0 C1157.5,271.5 1164.6,267.5 1170.0,262.5 C1175.4,257.5 1178.8,252.1 1182.5,245.0 C1186.2,237.9 1189.2,226.2 1192.5,220.0 C1195.8,213.8 1197.1,211.7 1202.5,207.5 C1207.9,203.3 1217.1,199.6 1225.0,195.0 C1232.9,190.4 1241.7,186.2 1250.0,180.0 C1258.3,173.8 1266.7,164.2 1275.0,157.5 C1283.3,150.8 1291.7,144.0 1300.0,140.0 C1308.3,136.0 1316.7,135.2 1325.0,133.8 C1333.3,132.3 1342.1,132.5 1350.0,131.2 C1357.9,130.0 1366.7,127.7 1372.5,126.2 C1378.3,124.8 1381.2,125.2 1385.0,122.5 C1388.8,119.8 1393.3,112.1 1395.0,110.0Z" fill="#EFACB3" stroke="#5a3a3a" stroke-opacity="0.55" stroke-width="0.6"/>
<path d="M276.2,185.0 C282.3,184.2 300.2,182.5 312.5,180.0 C324.8,177.5 337.5,174.2 350.0,170.0 C362.5,165.8 377.1,160.4 387.5,155.0 C397.9,149.6 406.5,143.1 412.5,137.5 C418.5,131.9 421.5,125.8 423.8,121.2 C426.0,116.7 425.8,111.9 426.2,110.0 L276.3,90 L276.3,185.0Z" fill="#EFAEB9"/>
<path d="M276.2,185.0 C282.3,184.2 300.2,182.5 312.5,180.0 C324.8,177.5 337.5,174.2 350.0,170.0 C362.5,165.8 377.1,160.4 387.5,155.0 C397.9,149.6 406.5,143.1 412.5,137.5 C418.5,131.9 421.5,125.8 423.8,121.2 C426.0,116.7 425.8,111.9 426.2,110.0" fill="none" stroke="#5a3a3a" stroke-opacity="0.55" stroke-width="0.6"/>
<path d="M749.8,110.0 C749.8,112.3 758.0,120.8 749.8,123.8 C741.5,126.7 714.5,125.6 700.0,127.5 C685.5,129.4 673.3,131.2 662.5,135.0 C651.7,138.8 641.9,144.2 635.0,150.0 C628.1,155.8 623.3,162.9 621.2,170.0 C619.2,177.1 620.2,185.4 622.5,192.5 C624.8,199.6 629.2,206.2 635.0,212.5 C640.8,218.8 648.8,225.6 657.5,230.0 C666.2,234.4 677.1,237.9 687.5,238.8 C697.9,239.6 709.6,237.7 720.0,235.0 C730.4,232.3 740.8,225.0 750.0,222.5 C759.2,220.0 766.7,219.8 775.0,220.0 C783.3,220.2 789.6,220.4 800.0,223.8 C810.4,227.1 824.2,234.8 837.5,240.0 C850.8,245.2 865.4,250.4 880.0,255.0 C894.6,259.6 911.2,264.4 925.0,267.5 C938.8,270.6 950.0,272.5 962.5,273.8 C975.0,275.0 987.5,276.0 1000.0,275.0 C1012.5,274.0 1025.0,270.4 1037.5,267.5 C1050.0,264.6 1062.5,261.7 1075.0,257.5 C1087.5,253.3 1101.7,247.9 1112.5,242.5 C1123.3,237.1 1133.8,231.2 1140.0,225.0 C1146.2,218.8 1147.5,213.3 1150.0,205.0 C1152.5,196.7 1152.9,184.2 1155.0,175.0 C1157.1,165.8 1159.6,157.9 1162.5,150.0 C1165.4,142.1 1170.4,134.2 1172.5,127.5 C1174.6,120.8 1174.6,112.9 1175.0,110.0Z" fill="#EFAEB9" stroke="#5a3a3a" stroke-opacity="0.55" stroke-width="0.6"/>
<path d="M276.2,158.8 C281.0,158.3 295.2,157.7 305.0,156.2 C314.8,154.8 325.8,152.5 335.0,150.0 C344.2,147.5 353.3,144.2 360.0,141.2 C366.7,138.3 370.8,135.4 375.0,132.5 C379.2,129.6 382.5,127.5 385.0,123.8 C387.5,120.0 389.2,112.3 390.0,110.0 L276.3,90 L276.3,158.8Z" fill="#F0B0BF"/>
<path d="M276.2,158.8 C281.0,158.3 295.2,157.7 305.0,156.2 C314.8,154.8 325.8,152.5 335.0,150.0 C344.2,147.5 353.3,144.2 360.0,141.2 C366.7,138.3 370.8,135.4 375.0,132.5 C379.2,129.6 382.5,127.5 385.0,123.8 C387.5,120.0 389.2,112.3 390.0,110.0" fill="none" stroke="#5a3a3a" stroke-opacity="0.55" stroke-width="0.6"/>
<path d="M786.2,110.0 C786.2,110.8 786.5,109.2 786.2,115.0 C786.0,120.8 784.0,135.8 785.0,145.0 C786.0,154.2 787.9,161.7 792.5,170.0 C797.1,178.3 803.8,186.7 812.5,195.0 C821.2,203.3 833.8,212.9 845.0,220.0 C856.2,227.1 866.7,232.9 880.0,237.5 C893.3,242.1 911.2,245.6 925.0,247.5 C938.8,249.4 950.0,249.6 962.5,248.8 C975.0,247.9 987.5,245.6 1000.0,242.5 C1012.5,239.4 1025.0,235.0 1037.5,230.0 C1050.0,225.0 1063.8,218.3 1075.0,212.5 C1086.2,206.7 1096.7,201.2 1105.0,195.0 C1113.3,188.8 1119.8,182.5 1125.0,175.0 C1130.2,167.5 1133.8,158.8 1136.2,150.0 C1138.8,141.2 1139.3,129.2 1140.0,122.5 C1140.7,115.8 1140.4,112.1 1140.5,110.0Z" fill="#F0B0BF" stroke="#5a3a3a" stroke-opacity="0.55" stroke-width="0.6"/>
<path d="M667.5,175.0 L682.5,166.2 L696.2,165.0 L710.0,175.0 L703.8,187.5 L683.8,195.0 L668.8,190.0Z" fill="#F1B3C4" stroke="#5a3a3a" stroke-opacity="0.55" stroke-width="0.6"/>
<path d="M276.2,133.8 C280.2,133.5 291.9,133.3 300.0,132.5 C308.1,131.7 316.9,130.4 325.0,128.8 C333.1,127.1 343.3,125.6 348.8,122.5 C354.2,119.4 356.0,112.1 357.5,110.0 L276.3,90 L276.3,133.8Z" fill="#F1B3C4"/>
<path d="M276.2,133.8 C280.2,133.5 291.9,133.3 300.0,132.5 C308.1,131.7 316.9,130.4 325.0,128.8 C333.1,127.1 343.3,125.6 348.8,122.5 C354.2,119.4 356.0,112.1 357.5,110.0" fill="none" stroke="#5a3a3a" stroke-opacity="0.55" stroke-width="0.6"/>
<path d="M810.0,110.0 C810.0,114.6 808.8,128.8 810.0,137.5 C811.2,146.2 812.9,154.2 817.5,162.5 C822.1,170.8 830.0,180.0 837.5,187.5 C845.0,195.0 852.1,201.2 862.5,207.5 C872.9,213.8 887.5,221.2 900.0,225.0 C912.5,228.8 927.1,229.4 937.5,230.0 C947.9,230.6 954.2,230.4 962.5,228.8 C970.8,227.1 977.1,224.0 987.5,220.0 C997.9,216.0 1012.5,210.0 1025.0,205.0 C1037.5,200.0 1050.8,195.4 1062.5,190.0 C1074.2,184.6 1087.1,178.3 1095.0,172.5 C1102.9,166.7 1106.5,160.8 1110.0,155.0 C1113.5,149.2 1115.0,142.9 1116.2,137.5 C1117.5,132.1 1117.3,127.1 1117.5,122.5 C1117.7,117.9 1117.5,112.1 1117.5,110.0Z" fill="#F1B3C4" stroke="#5a3a3a" stroke-opacity="0.55" stroke-width="0.6"/>
<path d="M825.0,110.0 C825.2,114.6 824.6,128.8 826.2,137.5 C827.9,146.2 830.2,154.6 835.0,162.5 C839.8,170.4 847.5,178.3 855.0,185.0 C862.5,191.7 870.4,197.7 880.0,202.5 C889.6,207.3 901.7,211.7 912.5,213.8 C923.3,215.8 934.6,216.0 945.0,215.0 C955.4,214.0 965.8,210.8 975.0,207.5 C984.2,204.2 991.7,199.6 1000.0,195.0 C1008.3,190.4 1016.7,184.4 1025.0,180.0 C1033.3,175.6 1041.7,172.5 1050.0,168.8 C1058.3,165.0 1068.8,161.0 1075.0,157.5 C1081.2,154.0 1084.8,151.7 1087.5,147.5 C1090.2,143.3 1091.0,136.7 1091.2,132.5 C1091.5,128.3 1089.4,126.2 1088.8,122.5 C1088.1,118.8 1087.7,112.1 1087.5,110.0Z" fill="#F2B7CA" stroke="#5a3a3a" stroke-opacity="0.55" stroke-width="0.6"/>
<path d="M839.5,110.0 C839.5,114.6 838.6,129.6 839.5,137.5 C840.4,145.4 841.6,150.8 845.0,157.5 C848.4,164.2 854.2,171.9 860.0,177.5 C865.8,183.1 872.5,187.5 880.0,191.2 C887.5,195.0 896.7,198.0 905.0,200.0 C913.3,202.0 922.5,203.0 930.0,203.2 C937.5,203.5 943.8,203.0 950.0,201.2 C956.2,199.5 962.5,196.5 967.5,192.5 C972.5,188.5 975.4,182.5 980.0,177.5 C984.6,172.5 989.6,167.1 995.0,162.5 C1000.4,157.9 1006.7,153.8 1012.5,150.0 C1018.3,146.2 1024.7,142.5 1030.0,140.0 C1035.3,137.5 1042.1,140.0 1044.5,135.0 C1046.9,130.0 1044.5,114.2 1044.5,110.0Z" fill="#FF8A95" stroke="#5a3a3a" stroke-opacity="0.55" stroke-width="0.6"/>
<path d="M851.2,110.0 C851.5,114.6 851.0,129.6 852.5,137.5 C854.0,145.4 856.2,151.2 860.0,157.5 C863.8,163.8 869.2,170.2 875.0,175.0 C880.8,179.8 887.5,183.4 895.0,186.2 C902.5,189.1 912.1,191.2 920.0,192.0 C927.9,192.8 935.8,192.6 942.5,191.2 C949.2,189.9 954.6,187.7 960.0,183.8 C965.4,179.8 970.8,173.1 975.0,167.5 C979.2,161.9 982.5,155.8 985.0,150.0 C987.5,144.2 989.4,139.2 990.0,132.5 C990.6,125.8 989.0,113.8 988.8,110.0Z" fill="#FF9B9B" stroke="#5a3a3a" stroke-opacity="0.55" stroke-width="0.6"/>
<path d="M865.0,110.0 C865.2,114.2 865.0,127.9 866.2,135.0 C867.5,142.1 869.4,147.1 872.5,152.5 C875.6,157.9 879.6,163.3 885.0,167.5 C890.4,171.7 898.3,175.3 905.0,177.5 C911.7,179.7 918.3,180.7 925.0,180.5 C931.7,180.3 939.2,179.0 945.0,176.2 C950.8,173.5 956.0,169.0 960.0,163.8 C964.0,158.5 966.9,151.5 968.8,145.0 C970.6,138.5 971.5,130.8 971.2,125.0 C971.0,119.2 968.1,112.5 967.5,110.0Z" fill="#FF8888" stroke="#5a3a3a" stroke-opacity="0.55" stroke-width="0.6"/>
<path d="M878.8,110.0 C879.0,114.2 878.8,128.8 880.0,135.0 C881.2,141.2 883.3,143.5 886.2,147.5 C889.2,151.5 893.1,155.8 897.5,158.8 C901.9,161.8 907.5,164.2 912.5,165.5 C917.5,166.8 922.9,167.0 927.5,166.2 C932.1,165.5 936.5,163.5 940.0,161.2 C943.5,159.0 946.5,156.5 948.8,152.5 C951.0,148.5 953.2,142.5 953.8,137.5 C954.3,132.5 952.6,127.1 952.0,122.5 C951.4,117.9 950.3,112.1 950.0,110.0Z" fill="#FF7070"/>
<path d="M879.2,123.8 C879.4,125.6 878.8,131.0 880.0,135.0 C881.2,139.0 883.3,143.5 886.2,147.5 C889.2,151.5 893.1,155.8 897.5,158.8 C901.9,161.8 907.5,164.2 912.5,165.5 C917.5,166.8 922.9,167.0 927.5,166.2 C932.1,165.5 936.5,163.5 940.0,161.2 C943.5,159.0 947.3,154.0 948.8,152.5" fill="none" stroke="#111" stroke-width="1"/>
<path d="M955.2,135.0 L952.2,122.5" fill="none" stroke="#111" stroke-width="1"/>
<path d="M900.0,130.0 L907.5,120.0 L916.2,115.5 L927.5,122.5 L933.8,135.0 L928.8,145.0 L915.0,148.0 L903.8,140.0Z" fill="#FF6040" stroke="#5a3a3a" stroke-opacity="0.55" stroke-width="0.6"/>
<path d="M1107.5,1097.5 C1108.1,1093.3 1109.2,1086.7 1112.5,1082.5 C1115.8,1078.3 1121.2,1075.2 1127.5,1072.5 C1133.8,1069.8 1142.1,1067.7 1150.0,1066.2 C1157.9,1064.8 1166.7,1064.0 1175.0,1063.8 C1183.3,1063.5 1192.5,1063.8 1200.0,1065.0 C1207.5,1066.2 1214.2,1068.3 1220.0,1071.2 C1225.8,1074.2 1231.0,1078.1 1235.0,1082.5 C1239.0,1086.9 1241.7,1091.7 1243.8,1097.5 C1245.8,1103.3 1246.7,1111.2 1247.5,1117.5 C1248.3,1123.8 1249.0,1128.8 1248.8,1135.0 C1248.5,1141.2 1248.1,1148.8 1246.2,1155.0 C1244.4,1161.2 1241.0,1167.7 1237.5,1172.5 C1234.0,1177.3 1230.0,1181.5 1225.0,1183.8 C1220.0,1186.0 1213.8,1186.5 1207.5,1186.2 C1201.2,1186.0 1193.8,1184.8 1187.5,1182.5 C1181.2,1180.2 1176.2,1176.7 1170.0,1172.5 C1163.8,1168.3 1156.2,1162.9 1150.0,1157.5 C1143.8,1152.1 1137.9,1145.8 1132.5,1140.0 C1127.1,1134.2 1121.5,1127.9 1117.5,1122.5 C1113.5,1117.1 1110.4,1111.7 1108.8,1107.5 C1107.1,1103.3 1106.9,1101.7 1107.5,1097.5Z" fill="none" stroke="#5a3a3a" stroke-opacity="0.55" stroke-width="0.6" stroke-dasharray="3 1.5"/>
<path d="M1136.2,1100.0 C1138.5,1095.8 1144.4,1090.4 1150.0,1087.5 C1155.6,1084.6 1163.3,1083.1 1170.0,1082.5 C1176.7,1081.9 1183.8,1082.1 1190.0,1083.8 C1196.2,1085.4 1202.5,1088.5 1207.5,1092.5 C1212.5,1096.5 1216.9,1102.1 1220.0,1107.5 C1223.1,1112.9 1225.2,1119.2 1226.2,1125.0 C1227.3,1130.8 1227.3,1137.1 1226.2,1142.5 C1225.2,1147.9 1222.7,1153.5 1220.0,1157.5 C1217.3,1161.5 1214.2,1164.6 1210.0,1166.2 C1205.8,1167.9 1200.8,1168.3 1195.0,1167.5 C1189.2,1166.7 1181.2,1164.6 1175.0,1161.2 C1168.8,1157.9 1162.9,1152.7 1157.5,1147.5 C1152.1,1142.3 1146.0,1135.8 1142.5,1130.0 C1139.0,1124.2 1137.3,1117.5 1136.2,1112.5 C1135.2,1107.5 1134.0,1104.2 1136.2,1100.0Z" fill="#EFA9B3" stroke="#5a3a3a" stroke-opacity="0.55" stroke-width="0.6" stroke-dasharray="3 1.5"/>
<path d="M1170.0,1113.0 L1186.2,1113.0 L1193.8,1125.0 L1185.0,1128.8 L1170.0,1125.0Z" fill="#EEAEC4" stroke="#5a3a3a" stroke-opacity="0.55" stroke-width="0.6"/>
<path d="M537.5,720.0 C539.0,717.1 542.1,707.9 546.2,702.5 C550.4,697.1 556.0,692.3 562.5,687.5 C569.0,682.7 577.9,677.5 585.0,673.8 C592.1,670.0 599.2,666.5 605.0,665.0 C610.8,663.5 615.6,663.2 620.0,664.5 C624.4,665.8 628.5,667.8 631.2,672.5 C634.0,677.2 635.2,685.0 636.2,692.5 C637.3,700.0 637.9,709.2 637.5,717.5 C637.1,725.8 635.8,735.4 633.8,742.5 C631.7,749.6 629.0,755.6 625.0,760.0 C621.0,764.4 615.8,767.2 610.0,768.8 C604.2,770.3 596.7,770.5 590.0,769.5 C583.3,768.5 576.7,765.8 570.0,762.5 C563.3,759.2 555.0,754.6 550.0,750.0 C545.0,745.4 542.1,740.0 540.0,735.0 C537.9,730.0 537.9,722.5 537.5,720.0" fill="none" stroke="#5a3a3a" stroke-opacity="0.55" stroke-width="0.6"/>
<path d="M749.8,772.5 C745.6,773.1 733.3,775.0 725.0,776.2 C716.7,777.5 707.1,778.5 700.0,780.0 C692.9,781.5 686.9,782.5 682.5,785.0 C678.1,787.5 674.8,790.8 673.8,795.0 C672.7,799.2 673.5,805.0 676.2,810.0 C679.0,815.0 684.4,820.4 690.0,825.0 C695.6,829.6 702.9,833.3 710.0,837.5 C717.1,841.7 725.9,846.3 732.5,850.0 C739.1,853.7 746.8,857.2 749.8,859.8 C752.7,862.2 747.5,862.5 750.0,865.0 C752.5,867.5 759.6,871.2 765.0,875.0 C770.4,878.8 776.7,883.8 782.5,887.5 C788.3,891.2 794.2,895.2 800.0,897.5 C805.8,899.8 812.5,901.7 817.5,901.2 C822.5,900.8 825.4,898.5 830.0,895.0 C834.6,891.5 840.4,885.8 845.0,880.0 C849.6,874.2 855.0,863.4 857.5,860.0 C860.0,856.6 858.3,863.5 860.0,859.8 C861.7,856.0 865.4,845.0 867.5,837.5 C869.6,830.0 872.1,822.1 872.5,815.0 C872.9,807.9 872.5,801.5 870.0,795.0 C867.5,788.5 862.5,781.9 857.5,776.2 C852.5,770.6 846.2,764.8 840.0,761.2 C833.8,757.7 826.7,755.8 820.0,755.0 C813.3,754.2 807.5,754.8 800.0,756.2 C792.5,757.7 783.3,761.0 775.0,763.8 C766.7,766.5 754.2,771.0 750.0,772.5" fill="none" stroke="#5a3a3a" stroke-opacity="0.55" stroke-width="0.6"/>
<path d="M900.0,852.5 C899.0,848.8 895.6,837.9 893.8,830.0 C891.9,822.1 888.3,812.5 888.8,805.0 C889.2,797.5 892.3,791.2 896.2,785.0 C900.2,778.8 906.9,773.3 912.5,767.5 C918.1,761.7 923.8,756.2 930.0,750.0 C936.2,743.8 943.3,735.2 950.0,730.0 C956.7,724.8 962.5,721.5 970.0,718.8 C977.5,716.0 987.5,714.2 995.0,713.8 C1002.5,713.3 1008.3,714.0 1015.0,716.2 C1021.7,718.5 1028.8,723.5 1035.0,727.5 C1041.2,731.5 1047.9,736.2 1052.5,740.0 C1057.1,743.8 1061.2,746.7 1062.5,750.0 C1063.8,753.3 1062.9,756.7 1060.0,760.0 C1057.1,763.3 1051.7,767.3 1045.0,770.0 C1038.3,772.7 1029.2,774.6 1020.0,776.2 C1010.8,777.9 999.6,779.0 990.0,780.0 C980.4,781.0 970.4,780.8 962.5,782.5 C954.6,784.2 948.3,786.7 942.5,790.0 C936.7,793.3 931.7,797.9 927.5,802.5 C923.3,807.1 919.6,812.9 917.5,817.5 C915.4,822.1 916.2,825.8 915.0,830.0 C913.8,834.2 912.1,838.8 910.0,842.5 C907.9,846.2 903.8,850.8 902.5,852.5" fill="none" stroke="#5a3a3a" stroke-opacity="0.55" stroke-width="0.6"/>
<path d="M1765.0,412.5 C1766.7,411.5 1771.7,407.6 1775.0,406.2 C1778.3,404.9 1781.2,404.1 1785.0,404.5 C1788.8,404.9 1793.8,406.8 1797.5,408.8 C1801.2,410.7 1805.0,414.2 1807.5,416.2 C1810.0,418.2 1811.7,420.0 1812.5,420.8" fill="none" stroke="#5a3a3a" stroke-opacity="0.55" stroke-width="0.6"/>
<path d="M690.3,1399.1 C690.1,1393.3 689.7,1375.0 689.0,1364.2 C688.4,1353.4 687.2,1343.5 686.6,1334.4 C685.9,1325.2 684.9,1316.1 685.3,1309.5 C685.7,1302.8 686.6,1298.5 689.0,1294.5 C691.5,1290.6 695.9,1288.3 700.2,1285.8 C704.6,1283.3 710.2,1280.8 715.2,1279.6 C720.2,1278.4 725.6,1277.9 730.1,1278.4 C734.7,1278.8 739.2,1279.0 742.6,1282.1 C745.9,1285.2 747.7,1290.8 750.0,1297.0 C752.3,1303.2 754.4,1311.5 756.2,1319.4 C758.1,1327.3 760.0,1336.0 761.2,1344.3 C762.4,1352.6 763.5,1362.1 763.7,1369.2 C763.9,1376.2 762.7,1383.7 762.4,1386.6" fill="none" stroke="#5a3a3a" stroke-opacity="0.55" stroke-width="0.6"/>
<path d="M834.6,1399.1 C837.1,1396.6 843.7,1388.7 849.6,1384.1 C855.4,1379.6 862.8,1375.4 869.5,1371.7 C876.1,1367.9 882.3,1365.0 889.4,1361.7 C896.4,1358.4 904.3,1355.1 911.8,1351.8 C919.2,1348.5 926.7,1345.1 934.2,1341.8 C941.6,1338.5 949.5,1335.6 956.6,1331.9 C963.6,1328.1 970.3,1324.0 976.5,1319.4 C982.7,1314.9 988.5,1309.9 993.9,1304.5 C999.3,1299.1 1003.9,1293.7 1008.8,1287.1 C1013.8,1280.4 1018.8,1272.5 1023.8,1264.7 C1028.7,1256.8 1033.7,1247.2 1038.7,1239.8 C1043.7,1232.3 1048.7,1225.5 1053.6,1219.9 C1058.6,1214.3 1063.6,1209.5 1068.6,1206.2 C1073.5,1202.9 1078.5,1201.1 1083.5,1200.0 C1088.5,1198.8 1093.5,1198.6 1098.4,1199.5 C1103.4,1200.3 1108.4,1202.4 1113.4,1204.9 C1118.3,1207.5 1123.7,1211.2 1128.3,1214.9 C1132.9,1218.6 1137.8,1223.2 1140.7,1227.3 C1143.6,1231.5 1145.7,1234.8 1145.7,1239.8 C1145.7,1244.8 1143.0,1251.4 1140.7,1257.2 C1138.5,1263.0 1133.9,1269.2 1132.0,1274.6 C1130.2,1280.0 1129.1,1284.2 1129.5,1289.6 C1130.0,1294.9 1132.7,1301.6 1134.5,1307.0 C1136.4,1312.4 1139.5,1317.3 1140.7,1321.9 C1142.0,1326.5 1142.8,1329.8 1142.0,1334.4 C1141.2,1338.9 1138.9,1344.3 1135.8,1349.3 C1132.7,1354.3 1127.5,1359.7 1123.3,1364.2 C1119.2,1368.8 1114.4,1373.1 1110.9,1376.7 C1107.4,1380.2 1103.6,1383.9 1102.2,1385.4" fill="none" stroke="#5a3a3a" stroke-opacity="0.55" stroke-width="0.6"/>
<path d="M930.4,1399.1 C933.1,1397.6 941.0,1392.8 946.6,1390.3 C952.2,1387.9 958.2,1385.7 964.0,1384.1 C969.8,1382.6 976.1,1381.6 981.5,1381.1 C986.9,1380.7 992.2,1380.5 996.4,1381.6 C1000.5,1382.8 1003.9,1385.4 1006.3,1387.9 C1008.8,1390.3 1010.5,1395.1 1011.3,1396.6" fill="none" stroke="#5a3a3a" stroke-opacity="0.55" stroke-width="0.6"/>
<path d="M1358.5,1399.1 C1358.7,1395.7 1358.3,1385.8 1359.7,1379.1 C1361.2,1372.5 1363.5,1364.8 1367.2,1359.2 C1370.9,1353.6 1376.7,1348.5 1382.1,1345.6 C1387.5,1342.6 1393.7,1341.8 1399.6,1341.8 C1405.4,1341.8 1411.6,1344.6 1417.0,1345.6 C1422.4,1346.5 1427.3,1347.5 1431.9,1347.3 C1436.5,1347.1 1440.2,1346.9 1444.4,1344.3 C1448.5,1341.7 1453.1,1337.3 1456.8,1331.9 C1460.5,1326.5 1463.4,1318.2 1466.7,1312.0 C1470.1,1305.7 1473.4,1299.5 1476.7,1294.5 C1480.0,1289.6 1482.9,1285.0 1486.7,1282.1 C1490.4,1279.2 1494.5,1277.5 1499.1,1277.1 C1503.7,1276.7 1508.6,1277.5 1514.0,1279.6 C1519.4,1281.7 1525.2,1285.8 1531.5,1289.6 C1537.7,1293.3 1544.3,1297.6 1551.4,1302.0 C1558.4,1306.4 1566.7,1312.0 1573.8,1315.7 C1580.8,1319.4 1586.6,1322.6 1593.7,1324.4 C1600.7,1326.2 1608.2,1326.8 1616.1,1326.4 C1624.0,1326.0 1632.3,1323.4 1641.0,1321.9 C1649.7,1320.4 1658.8,1318.5 1668.3,1317.4 C1677.9,1316.4 1688.3,1316.0 1698.2,1315.7 C1708.2,1315.4 1717.7,1316.1 1728.1,1315.7 C1738.4,1315.3 1749.6,1314.4 1760.4,1313.2 C1771.2,1312.0 1787.4,1309.0 1792.8,1308.2" fill="none" stroke="#5a3a3a" stroke-opacity="0.55" stroke-width="0.6"/>
<path d="M1621.1,1398.6 C1620.1,1396.6 1613.9,1390.7 1615.6,1386.6 C1617.2,1382.6 1624.3,1377.7 1631.0,1374.2 C1637.7,1370.6 1647.2,1367.9 1655.9,1365.5 C1664.6,1363.0 1672.9,1360.7 1683.3,1359.2 C1693.6,1357.8 1706.5,1357.6 1718.1,1356.7 C1729.7,1355.9 1741.3,1355.5 1753.0,1354.3 C1764.6,1353.0 1776.2,1350.9 1787.8,1349.3 C1799.4,1347.7 1816.8,1345.6 1822.6,1344.8" fill="none" stroke="#5a3a3a" stroke-opacity="0.55" stroke-width="0.6"/>
<path d="M593.2,1345.6 L602.7,1341.3 L603.7,1354.3 L600.2,1354.8Z" fill="#F6CDCD" stroke="#5a3a3a" stroke-opacity="0.55" stroke-width="0.6"/>
</g>
<g clip-path="url(#inner)">
<path d="M69.0,770.5 L77.5,772.5 L85.0,776.3 L92.5,775.5 L102.5,780.0 L110.0,783.8 L117.5,782.5 L126.3,778.8 L135.1,780.0 L145.1,785.0 L155.1,790.0 L165.1,793.8 L175.1,800.0 L185.1,808.8 L192.6,813.8 L200.1,820.0 L207.6,823.8 L217.6,827.6 L227.6,831.3 L237.6,832.6 L245.1,837.6 L252.6,845.1 L260.2,851.3 L270.2,858.8 L280.2,865.1 L290.2,870.1 L296.4,873.8 L295.2,878.8 L285.2,881.3 L280.2,887.6 L278.2,897.6 L280.2,907.6 L286.4,917.6 L295.2,925.1 L303.9,932.6 L312.7,938.9 L320.2,938.9 L323.9,935.1 L325.2,940.1 L323.9,950.1 L326.4,960.2 L334.0,963.9 L334.5,968.9 L331.5,977.7 L325.2,982.7 L317.7,985.2 L312.7,987.7 L310.2,983.9 L300.2,986.4 L292.7,992.7 L282.7,996.4 L273.9,1003.9 L265.2,1011.4 L257.6,1018.9 L252.6,1027.7 L245.1,1032.7 L240.1,1037.7 L238.9,1050.2 L235.1,1051.5 L232.6,1057.7 L230.1,1051.5 L220.1,1051.5 L210.1,1055.2 L200.1,1060.2 L192.6,1066.5 L182.6,1072.7 L172.6,1077.7 L162.6,1085.2 L155.1,1094.0 L147.6,1101.5 L143.8,1110.3 L143.8,1117.8 L148.8,1124.0 L152.6,1127.8 L146.3,1127.8 L140.1,1121.5 L137.6,1116.5 L130.1,1114.0 L120.0,1112.3 L110.0,1114.0 L100.0,1119.0 L95.0,1124.0 L92.5,1129.0 L90.0,1134.0 L82.5,1130.3 L75.0,1127.8 L69.0,1126.5Z" fill="#F7C400" stroke="#F7C400" stroke-width="0.4" stroke-linejoin="round"/>
<path d="M1827.3,462.9 L1822.9,462.0 L1822.9,453.1 L1819.3,450.4 L1814.9,452.2 L1814.0,459.3 L1811.3,462.9 L1807.8,458.4 L1802.4,456.7 L1798.9,461.1 L1793.6,462.9 L1788.2,464.7 L1782.9,468.2 L1775.8,471.8 L1772.2,478.0 L1766.9,481.6 L1763.3,486.9 L1760.7,493.1 L1757.1,488.7 L1754.4,483.3 L1750.0,478.9 L1745.6,475.9 L1740.2,478.0 L1736.7,483.3 L1734.9,490.4 L1731.3,496.7 L1724.2,498.4 L1717.1,500.2 L1711.8,498.4 L1710.0,494.0 L1702.9,494.9 L1697.6,497.6 L1694.0,502.9 L1691.3,510.0 L1689.6,515.3 L1683.3,518.0 L1676.2,517.1 L1672.7,512.7 L1670.9,504.7 L1668.2,501.1 L1664.7,502.9 L1662.9,508.2 L1658.4,512.7 L1653.1,517.1 L1649.6,513.6 L1648.7,518.9 L1646.9,526.0 L1645.1,532.2 L1638.9,531.3 L1633.6,531.3 L1626.4,534.9 L1624.7,540.2 L1617.6,544.7 L1610.4,546.4 L1606.9,550.9 L1603.3,556.2 L1598.0,561.6 L1592.7,565.1 L1587.3,567.8 L1584.7,572.2 L1585.6,577.6 L1588.2,582.9 L1587.3,588.2 L1589.1,593.6 L1592.7,596.2 L1590.0,600.7 L1586.4,605.1 L1581.1,608.7 L1576.7,613.1 L1576.3,618.4 L1579.3,623.8 L1583.8,627.3 L1588.2,630.9 L1590.0,636.2 L1586.4,639.8 L1588.2,643.3 L1594.4,644.2 L1601.6,643.3 L1602.4,650.4 L1598.0,656.7 L1592.7,658.4 L1587.3,655.8 L1582.0,654.0 L1576.7,653.1 L1571.3,654.9 L1566.0,656.7 L1558.9,657.6 L1553.6,657.6 L1549.1,654.9 L1544.7,658.4 L1539.3,657.6 L1534.0,658.4 L1528.7,659.3 L1526.0,655.8 L1525.1,651.3 L1520.7,652.2 L1518.0,657.6 L1514.4,654.9 L1512.7,649.6 L1510.0,652.2 L1508.2,659.3 L1502.9,662.9 L1499.3,668.2 L1494.9,671.8 L1496.7,677.8 L1501.1,682.2 L1503.8,687.6 L1510.0,692.9 L1514.4,700.0 L1517.1,706.2 L1514.4,712.4 L1511.8,718.7 L1505.6,724.0 L1500.2,727.6 L1498.4,732.9 L1500.2,738.2 L1497.6,743.6 L1493.1,748.9 L1490.4,756.0 L1491.3,763.1 L1495.8,768.4 L1499.3,773.8 L1502.9,780.9 L1504.7,788.0 L1503.8,795.1 L1502.0,802.2 L1508.2,802.2 L1516.2,804.9 L1521.6,811.1 L1525.1,817.3 L1527.8,823.6 L1531.3,826.2 L1535.8,823.6 L1538.4,816.4 L1542.9,807.6 L1548.2,800.4 L1553.6,795.1 L1558.9,792.4 L1566.0,794.2 L1573.1,796.9 L1580.2,796.9 L1586.4,798.7 L1590.9,802.2 L1594.4,807.6 L1590.9,812.0 L1588.2,816.4 L1592.7,818.2 L1598.0,814.7 L1602.4,811.1 L1608.7,810.2 L1614.0,816.4 L1614.9,827.1 L1618.4,820.0 L1622.9,814.7 L1628.2,811.1 L1635.3,808.4 L1642.4,806.7 L1649.6,810.2 L1656.7,816.4 L1662.9,823.6 L1667.3,830.7 L1670.9,837.8 L1673.6,846.7 L1672.7,853.8 L1670.9,859.1 L1674.4,862.7 L1673.6,867.1 L1678.9,864.4 L1683.3,860.9 L1686.0,854.7 L1690.4,850.2 L1695.8,851.1 L1701.1,854.7 L1706.4,859.1 L1711.8,864.4 L1714.4,867.1 L1713.6,860.9 L1710.9,852.0 L1710.0,843.1 L1711.8,834.2 L1714.4,823.6 L1716.2,812.9 L1714.4,802.2 L1713.6,793.3 L1716.2,784.4 L1720.7,777.3 L1726.0,771.1 L1731.3,764.9 L1736.7,761.3 L1743.8,758.7 L1750.0,759.6 L1753.6,756.9 L1750.9,752.4 L1754.4,748.9 L1752.7,744.4 L1758.0,742.7 L1763.3,744.4 L1768.7,747.1 L1772.2,752.4 L1774.0,757.8 L1776.7,756.0 L1774.9,750.7 L1772.2,745.3 L1775.8,740.9 L1781.1,742.7 L1786.4,745.3 L1793.6,743.6 L1800.7,739.1 L1806.0,734.7 L1811.3,730.2 L1816.7,725.8 L1822.0,721.3 L1827.3,719.6Z" fill="#F7C400" stroke="#F7C400" stroke-width="0.4" stroke-linejoin="round"/>
<path d="M1485.1,626.4 L1487.8,622.0 L1491.3,618.4 L1494.9,617.6 L1495.8,622.9 L1493.1,627.3 L1490.4,631.8 L1492.2,634.4 L1496.7,636.2 L1498.1,641.6 L1494.9,645.1 L1490.4,643.3 L1486.0,638.0 L1484.2,632.7Z" fill="#F7C400" stroke="#F7C400" stroke-width="0.4" stroke-linejoin="round"/>
<path d="M1494.0,652.2 L1496.7,653.1 L1499.3,656.7 L1498.4,659.3 L1494.9,658.4Z" fill="#F7C400" stroke="#F7C400" stroke-width="0.4" stroke-linejoin="round"/>
<path d="M1462.9,672.1 L1466.4,670.0 L1474.4,670.0 L1476.2,672.7 L1472.7,674.4 L1466.4,675.0Z" fill="#F7C400" stroke="#F7C400" stroke-width="0.4" stroke-linejoin="round"/>
<path d="M1460.5,813.5 L1465.0,808.0 L1470.0,804.0 L1476.0,804.5 L1477.5,808.0 L1474.0,811.5 L1467.0,813.0 L1463.0,814.5Z" fill="#F7C400" stroke="#F7C400" stroke-width="0.4" stroke-linejoin="round"/>
<path d="M1482.5,806.0 L1487.0,804.5 L1491.0,806.0 L1490.5,809.5 L1487.5,808.0 L1484.0,808.5Z" fill="#F7C400" stroke="#F7C400" stroke-width="0.4" stroke-linejoin="round"/>
<path d="M1726.2,922.5 L1728.8,920.0 L1732.5,916.2 L1735.0,918.8 L1737.5,925.0 L1740.0,932.5 L1742.5,940.0 L1743.8,947.5 L1741.2,950.0 L1736.2,946.2 L1731.2,945.0 L1727.5,943.8 L1726.2,935.0 L1728.0,928.8Z" fill="#F7C400" stroke="#F7C400" stroke-width="0.4" stroke-linejoin="round"/>
<path d="M1793.8,913.8 L1797.5,908.8 L1800.0,913.8 L1798.8,920.0 L1801.2,926.2 L1803.8,933.8 L1800.0,932.5 L1796.2,926.2 L1793.8,920.0Z" fill="#F7C400" stroke="#F7C400" stroke-width="0.4" stroke-linejoin="round"/>
<path d="M1710.0,888.8 L1712.5,889.5 L1712.5,893.0 L1710.5,892.5Z" fill="#F7C400" stroke="#F7C400" stroke-width="0.4" stroke-linejoin="round"/>
<path d="M1717.0,887.0 L1720.0,885.8 L1721.5,890.0 L1720.0,893.0 L1717.5,891.2Z" fill="#F7C400" stroke="#F7C400" stroke-width="0.4" stroke-linejoin="round"/>
<path d="M1743.8,956.2 L1746.2,965.0 L1747.5,977.5 L1750.0,990.0 L1753.8,1002.5 L1760.0,1012.5 L1767.5,1020.0 L1775.0,1025.0 L1781.2,1028.8 L1786.2,1025.0 L1788.8,1022.5 L1787.5,1032.5 L1790.0,1040.0 L1793.8,1045.0 L1796.2,1052.5 L1796.2,1062.5 L1800.0,1070.0 L1807.5,1077.5 L1817.5,1085.0 L1826.0,1090.0 L1826.0,1111.2 L1815.0,1106.2 L1805.0,1100.0 L1795.0,1093.8 L1782.5,1088.8 L1770.0,1087.0 L1760.0,1088.8 L1752.5,1093.8 L1747.5,1100.0 L1743.8,1107.5 L1740.0,1115.0 L1732.5,1117.5 L1725.0,1122.5 L1720.0,1130.0 L1712.5,1137.5 L1705.0,1143.8 L1697.5,1148.8 L1690.0,1151.2 L1685.0,1150.0 L1683.8,1142.5 L1684.5,1130.0 L1686.2,1117.5 L1686.2,1105.0 L1683.8,1092.5 L1681.2,1080.0 L1681.2,1073.8 L1688.8,1072.5 L1689.5,1060.0 L1686.2,1047.5 L1682.5,1037.5 L1681.2,1032.5 L1687.5,1030.0 L1692.5,1022.5 L1698.8,1017.5 L1700.0,1011.2 L1702.5,1016.2 L1705.0,1021.2 L1712.5,1020.0 L1720.0,1016.2 L1722.5,1011.2 L1725.0,1015.0 L1730.0,1012.5 L1737.5,1005.0 L1742.5,995.0 L1745.0,982.5 L1746.2,970.0 L1744.5,960.0Z" fill="#F7C400" stroke="#F7C400" stroke-width="0.4" stroke-linejoin="round"/>
<path d="M1710.0,1025.0 C1710.4,1023.5 1711.7,1021.6 1713.0,1020.5 C1714.3,1019.4 1716.2,1018.8 1718.0,1018.5 C1719.8,1018.2 1722.1,1018.1 1723.5,1019.0 C1724.9,1019.9 1726.2,1022.1 1726.5,1023.8 C1726.8,1025.4 1726.1,1027.6 1725.0,1029.0 C1723.9,1030.4 1721.9,1031.5 1720.0,1032.0 C1718.1,1032.5 1715.3,1032.4 1713.8,1032.0 C1712.2,1031.6 1711.1,1030.7 1710.5,1029.5 C1709.9,1028.3 1709.6,1026.5 1710.0,1025.0Z" fill="#fff"/>
<path d="M194.4,805.8 L198.9,805.0 L203.9,808.8 L208.9,808.8 L213.1,804.5M208.4,810.0 L209.1,821.3" fill="none" stroke="#888" stroke-width="0.5"/>
</g>
<g stroke="#000" stroke-width="1" fill="none" stroke-opacity="0.38">
<path d="M339.5,103.5V1476.5"/>
<path d="M609.85,103.5V1476.5"/>
<path d="M880.1,103.5V1476.5"/>
<path d="M1150.3,103.5V1476.5"/>
<path d="M1420.5,103.5V1476.5"/>
<path d="M1690.8,103.5V1476.5"/>
<path d="M58.5,317.5H1837.5"/>
<path d="M58.5,587.5H1837.5"/>
<path d="M58.5,857.5H1837.5"/>
<path d="M58.5,1127.5H1837.5"/>
<path d="M58.5,1397.5H1837.5"/>
</g>
<g stroke="#000" stroke-opacity="0.34" stroke-width="1" fill="none">
<rect x="58.5" y="103.5" width="1779" height="1373"/>
<rect x="63.5" y="109.5" width="1768" height="1362"/>
<rect x="69.5" y="114.5" width="1756" height="1351" stroke-opacity="0.42"/>
<path d="M58.5,103.5L69.5,114.5M1837.5,103.5L1825.5,114.5M58.5,1476.5L69.5,1465.5M1837.5,1476.5L1825.5,1465.5" stroke-width="0.5" stroke="#000"/>
</g>
<g stroke="#6a6a6a" stroke-width="0.5" stroke-opacity="0.75" fill="none">
<path d="M74.7,198.3H93.7M84.2,188.8V207.8"/>
<path d="M366.8,207.5H385.8M376.3,198.0V217.0"/>
<path d="M656.8,216.3H675.8M666.3,206.8V225.8"/>
<path d="M950.0,223.8H969.0M959.5,214.3V233.3"/>
<path d="M1240.5,230H1259.5M1250,220.5V239.5"/>
<path d="M1532.5,236.3H1551.5M1542,226.8V245.8"/>
<path d="M62.5,574H81.5M72,564.5V583.5"/>
<path d="M354.3,582.5H373.3M363.8,573.0V592.0"/>
<path d="M648.0,589.5H667.0M657.5,580.0V599.0"/>
<path d="M939.3,598.8H958.3M948.8,589.3V608.3"/>
<path d="M1232.5,605H1251.5M1242,595.5V614.5"/>
<path d="M1525.0,611.3H1544.0M1534.5,601.8V620.8"/>
<path d="M1815.5,616.3H1834.5M1825,606.8V625.8"/>
<path d="M1523.0,736.3H1542.0M1532.5,726.8V745.8"/>
<path d="M343.5,957H362.5M353,947.5V966.5"/>
<path d="M637.5,965.5H656.5M647,956.0V975.0"/>
<path d="M931.0,973.8H950.0M940.5,964.3V983.3"/>
<path d="M1224.3,980H1243.3M1233.8,970.5V989.5"/>
<path d="M1517.5,986.3H1536.5M1527,976.8V995.8"/>
<path d="M1811.8,991.3H1830.8M1821.3,981.8V1000.8"/>
<path d="M332.4,1331.9H351.4M341.9,1322.4V1341.4"/>
<path d="M627.3,1340.6H646.3M636.8,1331.1V1350.1"/>
<path d="M922.2,1347.5H941.2M931.7,1338.0V1357.0"/>
<path d="M1227.8,1353H1246.8M1237.3,1343.5V1362.5"/>
<path d="M1510.8,1360.5H1529.8M1520.3,1351.0V1370.0"/>
<path d="M1805.7,1366.2H1824.7M1815.2,1356.7V1375.7"/>
<path d="M87.5,103.5V124"/>
<path d="M379,103.5V124"/>
<path d="M669.5,103.5V124"/>
<path d="M961.5,103.5V124"/>
<path d="M1253,103.5V124"/>
<path d="M1545,103.5V124"/>
<path d="M1807,103.5V124"/>
<path d="M82.5,1477V1456"/>
<path d="M338.9,1477V1456"/>
<path d="M634,1477V1456"/>
<path d="M928.5,1477V1456"/>
<path d="M1222.5,1477V1456"/>
<path d="M1518.5,1477V1456"/>
<path d="M1812.5,1477V1456"/>
<path d="M58.5,122.5H80"/>
<path d="M58.5,198.3H80"/>
<path d="M58.5,574H80"/>
<path d="M58.5,948.5H80"/>
<path d="M58.5,1323H80"/>
<path d="M58.5,1448.5H80"/>
<path d="M1837.5,141H1816"/>
<path d="M1837.5,240H1816"/>
<path d="M1837.5,616.3H1816"/>
<path d="M1837.5,991.3H1816"/>
<path d="M1837.5,1366.2H1816"/>
</g>
<text x="53.4" y="88.7" class="g" textLength="45.8" lengthAdjust="spacingAndGlyphs" text-anchor="end" >240000E</text>
<text x="53.4" y="98.8" class="g" textLength="52.5" lengthAdjust="spacingAndGlyphs" text-anchor="end" >4355000N</text>
<text x="1897.3" y="88.7" class="g" textLength="45.5" lengthAdjust="spacingAndGlyphs" text-anchor="end" >370000E</text>
<text x="1897.3" y="98.8" class="g" textLength="52.3" lengthAdjust="spacingAndGlyphs" text-anchor="end" >4355000N</text>
<text x="53.4" y="1488" class="g" textLength="45.8" lengthAdjust="spacingAndGlyphs" text-anchor="end" >240000E</text>
<text x="53.4" y="1497.9" class="g" textLength="52.5" lengthAdjust="spacingAndGlyphs" text-anchor="end" >4255000N</text>
<text x="1897.2" y="1487.5" class="g" textLength="45.2" lengthAdjust="spacingAndGlyphs" text-anchor="end" >370000E</text>
<text x="1897.2" y="1497.5" class="g" textLength="52" lengthAdjust="spacingAndGlyphs" text-anchor="end" >4255000N</text>
<text x="92" y="97.1" class="g" textLength="24" lengthAdjust="spacingAndGlyphs" text-anchor="middle" >0° 0'</text>
<text x="383.2" y="97.1" class="g" textLength="18.3" lengthAdjust="spacingAndGlyphs" text-anchor="middle" >15'</text>
<text x="676.7" y="97.1" class="g" textLength="18.5" lengthAdjust="spacingAndGlyphs" text-anchor="middle" >30'</text>
<text x="966.7" y="97.1" class="g" textLength="18.5" lengthAdjust="spacingAndGlyphs" text-anchor="middle" >45'</text>
<text x="1255" y="97.1" class="g" textLength="25" lengthAdjust="spacingAndGlyphs" text-anchor="middle" >1° 0'</text>
<text x="1549.5" y="97.1" class="g" textLength="18" lengthAdjust="spacingAndGlyphs" text-anchor="middle" >15'</text>
<text x="1813.7" y="97.1" class="g" textLength="32.5" lengthAdjust="spacingAndGlyphs" text-anchor="middle" >1° 29'</text>
<text x="53.3" y="122.9" class="g" textLength="32.6" lengthAdjust="spacingAndGlyphs" text-anchor="end" >39°18'</text>
<text x="53.3" y="201" class="g" textLength="17.6" lengthAdjust="spacingAndGlyphs" text-anchor="end" >15'</text>
<text x="53.3" y="576.8" class="g" textLength="32.6" lengthAdjust="spacingAndGlyphs" text-anchor="end" >39° 0'</text>
<text x="53.3" y="951.5" class="g" textLength="17.6" lengthAdjust="spacingAndGlyphs" text-anchor="end" >45'</text>
<text x="53.3" y="1326.6" class="g" textLength="17.6" lengthAdjust="spacingAndGlyphs" text-anchor="end" >30'</text>
<text x="53.3" y="1449.9" class="g" textLength="32.6" lengthAdjust="spacingAndGlyphs" text-anchor="end" >38°25'</text>
<text x="339.4" y="1491.4" class="g" textLength="38.7" lengthAdjust="spacingAndGlyphs" text-anchor="middle" >260000</text>
<text x="609.5" y="1491.4" class="g" textLength="38.7" lengthAdjust="spacingAndGlyphs" text-anchor="middle" >280000</text>
<text x="879.5" y="1491.4" class="g" textLength="38.7" lengthAdjust="spacingAndGlyphs" text-anchor="middle" >300000</text>
<text x="1149.5" y="1491.4" class="g" textLength="38.7" lengthAdjust="spacingAndGlyphs" text-anchor="middle" >320000</text>
<text x="1419.5" y="1491.4" class="g" textLength="38.7" lengthAdjust="spacingAndGlyphs" text-anchor="middle" >340000</text>
<text x="1689.5" y="1491.4" class="g" textLength="38.7" lengthAdjust="spacingAndGlyphs" text-anchor="middle" >360000</text>
<text x="1850" y="320.8" class="g" textLength="46.5" lengthAdjust="spacingAndGlyphs" text-anchor="middle" transform="rotate(-90 1850 320.8)" >4340000</text>
<text x="1850" y="590.8" class="g" textLength="46.5" lengthAdjust="spacingAndGlyphs" text-anchor="middle" transform="rotate(-90 1850 590.8)" >4320000</text>
<text x="1850" y="860.8" class="g" textLength="46.5" lengthAdjust="spacingAndGlyphs" text-anchor="middle" transform="rotate(-90 1850 860.8)" >4300000</text>
<text x="1850" y="1130.8" class="g" textLength="46.5" lengthAdjust="spacingAndGlyphs" text-anchor="middle" transform="rotate(-90 1850 1130.8)" >4280000</text>
<text x="1850" y="1400.8" class="g" textLength="46.5" lengthAdjust="spacingAndGlyphs" text-anchor="middle" transform="rotate(-90 1850 1400.8)" >4260000</text>
<text x="153" y="809.5" class="se" font-size="10.13" textLength="31.5" lengthAdjust="spacingAndGlyphs" >DENIA</text>
<text x="167" y="878.3" class="se" font-size="10.40" textLength="118" lengthAdjust="spacingAndGlyphs" >CABO DE SAN ANTONIO</text>
<text x="234.5" y="982.5" class="se" font-size="10.47" textLength="87" lengthAdjust="spacingAndGlyphs" >CABO DE LA NAO</text>
<text x="138.8" y="1044.3" class="se" font-size="10.38" textLength="100" lengthAdjust="spacingAndGlyphs" >CABO DE MORAYRA</text>
<text x="102.5" y="1098.8" class="se" font-size="10.26" textLength="32.5" lengthAdjust="spacingAndGlyphs" >CALPE</text>
<text x="156.3" y="1126.8" class="se" font-size="10.43" textLength="66.5" lengthAdjust="spacingAndGlyphs" >PUNTA IFACH</text>
<text x="1461.3" y="615" class="se" font-size="10.40" textLength="78.3" lengthAdjust="spacingAndGlyphs" >ISLA CONEJERA</text>
<text x="1534" y="668.6" class="se" font-size="9.45" textLength="75.6" lengthAdjust="spacingAndGlyphs" >PUNTA CHINCHÓ</text>
<text x="1656.7" y="664.7" class="se" font-size="11.07" textLength="29.5" lengthAdjust="spacingAndGlyphs" >IBIZA</text>
<text x="1717.6" y="753.3" class="se" font-size="9.83" textLength="26.2" lengthAdjust="spacingAndGlyphs" >IBIZA</text>
<text x="1780.2" y="756" class="se" font-size="9.99" textLength="22.2" lengthAdjust="spacingAndGlyphs" >ISLA</text>
<text x="1780.2" y="767.6" class="se" font-size="10.21" textLength="40.3" lengthAdjust="spacingAndGlyphs" >GROSSA</text>
<text x="1435" y="790" class="se" font-size="10.40" textLength="35.8" lengthAdjust="spacingAndGlyphs" >ISLOTE</text>
<text x="1435" y="801.8" class="se" font-size="10.16" textLength="35" lengthAdjust="spacingAndGlyphs" >VEDRÁ</text>
<text x="1639.2" y="867.3" class="se" font-size="10.22" textLength="28.4" lengthAdjust="spacingAndGlyphs" >CABO</text>
<text x="1639.2" y="879" class="se" font-size="10.46" textLength="33.5" lengthAdjust="spacingAndGlyphs" >FALCÓ</text>
<text x="1667" y="950.5" class="se" font-size="10.13" textLength="22.5" lengthAdjust="spacingAndGlyphs" >ISLA</text>
<text x="1667" y="961.8" class="se" font-size="10.36" textLength="69.3" lengthAdjust="spacingAndGlyphs" >ESPALMADOR</text>
<text x="1765.5" y="940.8" class="se" font-size="10.13" textLength="22.5" lengthAdjust="spacingAndGlyphs" >ISLA</text>
<text x="1765.5" y="952.5" class="se" font-size="10.31" textLength="57.5" lengthAdjust="spacingAndGlyphs" >ESPARDELL</text>
<text x="1706.3" y="1072.5" class="se" font-size="10.33" textLength="70" lengthAdjust="spacingAndGlyphs" >FORMENTERA</text>
<text x="1628.8" y="1160" class="se" font-size="10.45" textLength="83.3" lengthAdjust="spacingAndGlyphs" >CABO BERBERÍA</text>
<g fill="#111">
<circle cx="187" cy="813.3" r="3.3"/>
<circle cx="123.8" cy="1106.8" r="3.3"/>
<circle cx="1748.8" cy="756" r="3.1"/>
<text x="292" y="878.6" class="se" font-size="10" text-anchor="middle" style="fill:#3a2a08">*</text>
<text x="328.8" y="982.9" class="se" font-size="10" text-anchor="middle" style="fill:#3a2a08">*</text>
<text x="1575.8" y="658.0" class="se" font-size="10" text-anchor="middle" style="fill:#3a2a08">*</text>
<text x="1465" y="814.6" class="se" font-size="10" text-anchor="middle" style="fill:#3a2a08">*</text>
<text x="1687.5" y="1152.3999999999999" class="se" font-size="10" text-anchor="middle" style="fill:#3a2a08">*</text>
<text x="1732.5" y="919.1" class="se" font-size="10" text-anchor="middle" style="fill:#3a2a08">*</text>
<text x="1797.5" y="913.1" class="se" font-size="10" text-anchor="middle" style="fill:#3a2a08">*</text>
<text x="1775.4" y="760.5" class="se" font-size="10" text-anchor="middle" style="fill:#3a2a08">*</text>
</g>
<text x="366.5" y="139" class="cl" text-anchor="middle" transform="rotate(-35 366.5 139)" dominant-baseline="central">60</text>
<text x="455.5" y="143" class="cl" text-anchor="middle" transform="rotate(-55 455.5 143)" dominant-baseline="central">50</text>
<text x="674" y="172.5" class="cl" text-anchor="middle" transform="rotate(-30 674 172.5)" dominant-baseline="central">60</text>
<text x="952.5" y="144" class="cl" text-anchor="middle" transform="rotate(-70 952.5 144)" dominant-baseline="central">90</text>
<text x="987.5" y="144" class="cl" text-anchor="middle" transform="rotate(-65 987.5 144)" dominant-baseline="central">80</text>
<text x="1089.5" y="143" class="cl" text-anchor="middle" transform="rotate(-55 1089.5 143)" dominant-baseline="central">70</text>
<text x="1138" y="144" class="cl" text-anchor="middle" transform="rotate(-80 1138 144)" dominant-baseline="central">60</text>
<text x="1353.5" y="132" class="cl" text-anchor="middle" transform="rotate(0 1353.5 132)" dominant-baseline="central">50</text>
<text x="989" y="313" class="cl" text-anchor="middle" transform="rotate(0 989 313)" dominant-baseline="central">50</text>
<text x="1476" y="317.5" class="cl" text-anchor="middle" transform="rotate(-85 1476 317.5)" dominant-baseline="central">40</text>
<text x="1310.5" y="373" class="cl" text-anchor="middle" transform="rotate(80 1310.5 373)" dominant-baseline="central">40</text>
<text x="1758.5" y="416" class="cl" text-anchor="middle" transform="rotate(-45 1758.5 416)" dominant-baseline="central">50</text>
<text x="717" y="534" class="cl" text-anchor="middle" transform="rotate(30 717 534)" dominant-baseline="central">40</text>
<text x="976.5" y="532" class="cl" text-anchor="middle" transform="rotate(-15 976.5 532)" dominant-baseline="central">40</text>
<text x="1155" y="635" class="cl" text-anchor="middle" transform="rotate(-15 1155 635)" dominant-baseline="central">40</text>
<text x="555.5" y="756" class="cl" text-anchor="middle" transform="rotate(35 555.5 756)" dominant-baseline="central">50</text>
<text x="896.5" y="848" class="cl" text-anchor="middle" transform="rotate(70 896.5 848)" dominant-baseline="central">50</text>
<text x="790.5" y="893" class="cl" text-anchor="middle" transform="rotate(25 790.5 893)" dominant-baseline="central">50</text>
<text x="1070.5" y="889" class="cl" text-anchor="middle" transform="rotate(-55 1070.5 889)" dominant-baseline="central">40</text>
<text x="1177.5" y="1133" class="cl" text-anchor="middle" transform="rotate(30 1177.5 1133)" dominant-baseline="central">60</text>
<text x="1055.5" y="1148" class="cl" text-anchor="middle" transform="rotate(-10 1055.5 1148)" dominant-baseline="central">40</text>
<text x="1180" y="1180" class="cl" text-anchor="middle" transform="rotate(20 1180 1180)" dominant-baseline="central">50</text>
<text x="661.5" y="1207" class="cl" text-anchor="middle" transform="rotate(-10 661.5 1207)" dominant-baseline="central">40</text>
<text x="348.5" y="1397.5" class="cl" text-anchor="middle" transform="rotate(25 348.5 1397.5)" dominant-baseline="central">40</text>
<text x="1347.5" y="1231" class="cl" text-anchor="middle" transform="rotate(85 1347.5 1231)" dominant-baseline="central">40</text>
<text x="760" y="1391.5" class="cl" text-anchor="middle" transform="rotate(-75 760 1391.5)" dominant-baseline="central">30</text>
<text x="1097.5" y="1391.5" class="cl" text-anchor="middle" transform="rotate(-65 1097.5 1391.5)" dominant-baseline="central">30</text>
<text x="1803" y="1306.5" class="cl" text-anchor="middle" transform="rotate(-5 1803 1306.5)" dominant-baseline="central">30</text>
<text x="110" y="36" font-size="32.88" textLength="673" lengthAdjust="spacingAndGlyphs" >ZONA ECONÓMICA EXCLUSIVA ESPAÑOLA</text>
<text x="110" y="63" font-size="23.08" textLength="451" lengthAdjust="spacingAndGlyphs" >MAPA DE ANOMALÍAS GEOMAGNÉTICAS</text>
<text x="110" y="86.5" font-size="15.24" textLength="122" lengthAdjust="spacingAndGlyphs" >Escala 1: 200 000</text>
<text x="1029" y="78.2" class="b" font-size="9.52" textLength="98" lengthAdjust="spacingAndGlyphs" text-anchor="middle" >INSTITUTO ESPAÑOL</text>
<text x="1029.3" y="88.2" class="b" font-size="9.43" textLength="93.3" lengthAdjust="spacingAndGlyphs" text-anchor="middle" >DE OCEANOGRAFÍA</text>
<text x="1204.2" y="78.3" class="b" font-size="9.54" textLength="127.5" lengthAdjust="spacingAndGlyphs" text-anchor="middle" >INSTITUTO HIDROGRÁFICO</text>
<text x="1204" y="88.6" class="b" font-size="9.53" textLength="69" lengthAdjust="spacingAndGlyphs" text-anchor="middle" >DE LA MARINA</text>
<g>
<path d="M998.3,22.5 A30.2,30.2 0 1 1 998.3,45.7 L1005.6,34.1 Z" fill="#14128E" stroke="#14128E" stroke-width="1.2" stroke-linejoin="round"/>
<path d="M1025.7,14.2 C1036,14.2 1044,23 1050.6,34.1 C1044,46 1036,55 1025.7,55 A20.4,20.4 0 0 1 1025.7,14.2Z" fill="#fff"/>
<circle cx="1025.8" cy="34.6" r="16.4" fill="#12F6F0"/>
<path d="M1009.4,34.8H1042.2A16.4,16.4 0 0 1 1009.4,34.8Z" fill="#14128E"/>
<clipPath id="ieoc"><circle cx="1025.8" cy="34.6" r="16.4"/></clipPath>
<g clip-path="url(#ieoc)" fill="#7A78EA"><rect x="1005" y="36.2" width="42" height="1"/><rect x="1005" y="38.2" width="42" height="1.1"/><rect x="1005" y="40.7" width="42" height="1.2"/><rect x="1005" y="43.2" width="42" height="1.7"/><rect x="1005" y="47.1" width="42" height="1"/></g>
<circle cx="1034.6" cy="29.3" r="2.8" fill="#fff"/>
<path id="ieoarc" d="M994.1,46.4 A34.4,34.4 0 0 0 1060.6,32.9" fill="none"/>
<text font-size="4.3" class="b" style="fill:#2420A0"><textPath href="#ieoarc" textLength="94" lengthAdjust="spacingAndGlyphs">INSTITUTO ESPAÑOL DE OCEANOGRAFÍA 1914</textPath></text>
</g>
<g>
<circle cx="1201.7" cy="37.4" r="32" fill="#F20D0D" stroke="#2a1a06" stroke-width="1.6"/>
<circle cx="1201.7" cy="37.4" r="32" fill="none" stroke="#E8C040" stroke-width="1.1" stroke-dasharray="0.9 1.1"/>
<circle cx="1201.7" cy="37.4" r="22.9" fill="#26F2EE" stroke="#1a1008" stroke-width="1"/>
<path id="ihmarc" d="M1176.9,47.9 A26.9,26.9 0 1 1 1226.5,47.9" fill="none"/>
<text font-size="5.6" class="b" style="fill:#4a0606"><textPath href="#ihmarc" textLength="106" lengthAdjust="spacingAndGlyphs">INSTITUTO HIDROGRÁFICO DE LA MARINA</textPath></text>
<path id="ihmarc2" d="M1187.7,64.0 A30,30 0 0 0 1215.7,64.0" fill="none"/>
<text font-size="5.2" class="b" style="fill:#4a0606"><textPath href="#ihmarc2" textLength="24" lengthAdjust="spacingAndGlyphs" startOffset="2.5">ESPAÑA</textPath></text>
<circle cx="1184.5" cy="58.9" r="0.8" fill="#4a0606"/><circle cx="1218.9" cy="58.9" r="0.8" fill="#4a0606"/>
<g stroke="#0d6e74" stroke-width="0.7" fill="none"><path d="M1182,22.6h9M1212,22.6h8M1180.5,28.3h9M1213,28.3h9M1181,33h8M1213,33h9M1181,37.2h10M1212,37.2h10M1182,41.6h7M1216,41.6h6M1183,46h5M1217,45.5h4M1186,50h4M1214,50h4"/></g>
<path d="M1194.2,24 C1190.5,19.5 1195,16.8 1201.7,16.6 C1208.5,16.8 1213,19.5 1209.2,24 Z" fill="#E81818" stroke="#1a1a10" stroke-width="1"/>
<path d="M1196.3,23.2H1207.1L1206.2,26.2H1197.2Z" fill="#F2D020" stroke="#1a1a10" stroke-width="0.7"/>
<path d="M1201.7,16.6V14.8" stroke="#1a1a10" stroke-width="1"/>
<path d="M1188.3,42.6 L1190.5,50.5 L1192.8,49 C1195,52.5 1198,54.8 1201.7,57.2 C1205.4,54.8 1208.4,52.5 1210.6,49 L1212.9,50.5 L1215.1,42.6 L1207.8,46.3 L1209.6,47.7 C1207.5,50.2 1205.5,51.5 1203,52.3 V37 H1208.7 V35 H1203 V31.5 A2.6,2.6 0 1 0 1200.4,31.5 V35 H1194.7 V37 H1200.4 V52.3 C1198,51.5 1196,50.2 1193.8,47.7 L1195.6,46.3 Z" fill="#F4EE20" stroke="#2a2a08" stroke-width="0.6" stroke-linejoin="round"/>
<path d="M1204.5,30 C1210,34 1207,38 1201,39.5 C1194,41.5 1194,46 1201.5,47 C1207,47.8 1208,50 1206,52" fill="none" stroke="#0a2a30" stroke-width="1.1"/>
</g>
<text x="910.9" y="1485.8" font-size="6.89" textLength="212.1" lengthAdjust="spacingAndGlyphs" >© MINISTERIO DE AGRICULTURA, PESCA Y ALIMENTACIÓN 1999</text>
<text x="918.8" y="1492" font-size="6.44" textLength="86.3" lengthAdjust="spacingAndGlyphs" >Depósito legal: M-49944-1999</text>
<text x="918.8" y="1499.3" font-size="7.23" textLength="65.1" lengthAdjust="spacingAndGlyphs" >NIPO: 251-99-030-0</text>
<text x="918.8" y="1506.2" font-size="7.25" textLength="127.4" lengthAdjust="spacingAndGlyphs" >Prohibida la reproducción total o parcial</text>
<text x="1511" y="1504.5" class="se" font-size="11.42" textLength="306" lengthAdjust="spacingAndGlyphs" >ESTE MAPA NO DEBE SER USADO PARA LA NAVEGACIÓN</text>
<rect x="1951.5" y="10.5" width="217.0" height="48.0" fill="#fff" stroke="#909090" stroke-width="1"/>
<text x="1976.6" y="43.8" class="se" font-size="35.99" textLength="176" lengthAdjust="spacing">HOJA M 13</text>
<text x="2028" y="102" font-size="10.75" textLength="81" lengthAdjust="spacingAndGlyphs" >DATUM WGS 84</text>
<text x="1994.8" y="117.5" font-size="10.71" textLength="147" lengthAdjust="spacingAndGlyphs" >PROYECCIÓN UTM HUSO 31</text>
<text x="1994.8" y="129.3" font-size="10.77" textLength="185" lengthAdjust="spacingAndGlyphs" >CAMPO DE REFERENCIA IGRF 1995</text>
<text x="1994.8" y="141.2" font-size="10.76" textLength="73" lengthAdjust="spacingAndGlyphs" >ÉPOCA 1995.0</text>
<text x="2033.3" y="175.7" class="b" font-size="13.18" textLength="63" lengthAdjust="spacingAndGlyphs" >LEYENDA</text>
<rect x="1924.5" y="194.5" width="284.0" height="60.0" fill="#fff" stroke="#909090" stroke-width="1"/>
<rect x="1931.20" y="217.8" width="11.78" height="17.2" fill="#E64518"/>
<rect x="1942.68" y="217.8" width="11.78" height="17.2" fill="#FF5528"/>
<rect x="1954.16" y="217.8" width="11.78" height="17.2" fill="#FF6648"/>
<rect x="1965.63" y="217.8" width="11.78" height="17.2" fill="#FF7272"/>
<rect x="1977.11" y="217.8" width="11.78" height="17.2" fill="#FF8686"/>
<rect x="1988.59" y="217.8" width="11.78" height="17.2" fill="#FF9696"/>
<rect x="2000.07" y="217.8" width="11.78" height="17.2" fill="#FF8A95"/>
<rect x="2011.55" y="217.8" width="11.78" height="17.2" fill="#F2B7CB"/>
<rect x="2023.03" y="217.8" width="11.78" height="17.2" fill="#F0B1C4"/>
<rect x="2034.50" y="217.8" width="11.78" height="17.2" fill="#EFAEBE"/>
<rect x="2045.98" y="217.8" width="11.78" height="17.2" fill="#EDAAB8"/>
<rect x="2057.46" y="217.8" width="11.78" height="17.2" fill="#ECA6B0"/>
<rect x="2068.94" y="217.8" width="11.78" height="17.2" fill="#EAA2A9"/>
<rect x="2080.42" y="217.8" width="11.78" height="17.2" fill="#FFC8C3"/>
<rect x="2091.90" y="217.8" width="11.78" height="17.2" fill="#F9CAC8"/>
<rect x="2103.37" y="217.8" width="11.78" height="17.2" fill="#FFC8C3"/>
<rect x="2114.85" y="217.8" width="11.78" height="17.2" fill="#FFC8C3"/>
<rect x="2126.33" y="217.8" width="11.78" height="17.2" fill="#FFC8C3"/>
<rect x="2137.81" y="217.8" width="11.78" height="17.2" fill="#FFC8C3"/>
<rect x="2149.29" y="217.8" width="11.78" height="17.2" fill="#F9D8D8"/>
<rect x="2160.77" y="217.8" width="11.78" height="17.2" fill="#F9D8D8"/>
<rect x="2172.24" y="217.8" width="11.78" height="17.2" fill="#F9D8D8"/>
<rect x="2183.72" y="217.8" width="11.78" height="17.2" fill="#D9F7FD"/>
<text x="1946.0" y="214.3" font-size="11" textLength="16.5" lengthAdjust="spacingAndGlyphs" transform="rotate(-90 1946.0 214.3)">200</text>
<text x="1969.0" y="214.3" font-size="11" textLength="11.5" lengthAdjust="spacingAndGlyphs" transform="rotate(-90 1969.0 214.3)">95</text>
<text x="1991.9" y="214.3" font-size="11" textLength="11.5" lengthAdjust="spacingAndGlyphs" transform="rotate(-90 1991.9 214.3)">85</text>
<text x="2014.8" y="214.3" font-size="11" textLength="11.5" lengthAdjust="spacingAndGlyphs" transform="rotate(-90 2014.8 214.3)">75</text>
<text x="2037.8" y="214.3" font-size="11" textLength="11.5" lengthAdjust="spacingAndGlyphs" transform="rotate(-90 2037.8 214.3)">65</text>
<text x="2060.8" y="214.3" font-size="11" textLength="11.5" lengthAdjust="spacingAndGlyphs" transform="rotate(-90 2060.8 214.3)">55</text>
<text x="2083.7" y="214.3" font-size="11" textLength="11.5" lengthAdjust="spacingAndGlyphs" transform="rotate(-90 2083.7 214.3)">45</text>
<text x="2106.7" y="214.3" font-size="11" textLength="11.5" lengthAdjust="spacingAndGlyphs" transform="rotate(-90 2106.7 214.3)">35</text>
<text x="2129.6" y="214.3" font-size="11" textLength="11.5" lengthAdjust="spacingAndGlyphs" transform="rotate(-90 2129.6 214.3)">25</text>
<text x="2152.6" y="214.3" font-size="11" textLength="11.5" lengthAdjust="spacingAndGlyphs" transform="rotate(-90 2152.6 214.3)">15</text>
<text x="2175.5" y="214.3" font-size="11" textLength="5.8" lengthAdjust="spacingAndGlyphs" transform="rotate(-90 2175.5 214.3)">5</text>
<text x="2198.4" y="214.3" font-size="11" textLength="14.5" lengthAdjust="spacingAndGlyphs" transform="rotate(-90 2198.4 214.3)">-10</text>
<text x="2011.5" y="250.3" class="se" font-size="9.41" textLength="86.5" lengthAdjust="spacingAndGlyphs" >Isoanómalas cada 5 nT</text>
<text x="1969.5" y="293.8" class="b" font-size="10.81" textLength="202" lengthAdjust="spacingAndGlyphs" >FICHA TÉCNICA DEL LEVANTAMIENTO</text>
<rect x="1926.5" y="304.5" width="281.0" height="136.0" fill="#fff" stroke="#909090" stroke-width="1"/>
<text x="1935.5" y="318.5" class="b" font-size="10.82" textLength="93.8" lengthAdjust="spacingAndGlyphs" >AÑO : 1995 a 1999</text>
<text x="1935.5" y="329.4" class="b" font-size="10.85" textLength="232" lengthAdjust="spacingAndGlyphs">BUQUES : B.I.O. <tspan font-style="italic">HESPÉRIDES y B/H TOFIÑO</tspan></text>
<text x="1935.5" y="340.8" class="b" font-size="10.81" textLength="111.5" lengthAdjust="spacingAndGlyphs" >INSTRUMENTACIÓN :</text>
<text x="1930.6" y="352" font-size="9.53" textLength="262.2" lengthAdjust="spacingAndGlyphs" >Magnetómetro marino de protones en la mar, y magnetómetro</text>
<text x="1930.6" y="362.6" font-size="9.53" textLength="208.7" lengthAdjust="spacingAndGlyphs" >de tierra. Estación de referencia: año 1995, datos</text>
<text x="1930.6" y="373.2" font-size="9.54" textLength="243.8" lengthAdjust="spacingAndGlyphs" >proporcionados por el Observatorio de San Pablo(Toledo)</text>
<text x="1930.6" y="384" font-size="9.52" textLength="265.2" lengthAdjust="spacingAndGlyphs" >del IGN. Años 1996-97-99, estación de referencia ROA situada</text>
<text x="1930.6" y="394.6" font-size="9.54" textLength="178.1" lengthAdjust="spacingAndGlyphs" >en la Estación Naval de Mahón (Menorca)</text>
<text x="1930.6" y="405.3" font-size="9.53" textLength="219.2" lengthAdjust="spacingAndGlyphs" >Sistema de posicionamiento: GPS con correcciones</text>
<text x="1930.6" y="415.9" font-size="9.53" textLength="219.2" lengthAdjust="spacingAndGlyphs" >diferenciales y GPS para la campaña del B/H Tofiño</text>
<rect x="1925.5" y="462.5" width="282.0" height="62.0" fill="#fff" stroke="#909090" stroke-width="1"/>
<text x="1933.6" y="474.5" font-size="10.80" textLength="249.7" lengthAdjust="spacingAndGlyphs" >Levantado por el Instituto Español de Oceanografía,</text>
<text x="1933.6" y="486.1" font-size="10.80" textLength="258.6" lengthAdjust="spacingAndGlyphs" >el Instituto Hidrográfico de la Marina y el Real Instituto</text>
<text x="1933.6" y="497.7" font-size="10.78" textLength="215.2" lengthAdjust="spacingAndGlyphs" >y Observatorio de la Armada, para el Plan de</text>
<text x="1933.6" y="509.2" font-size="10.78" textLength="231.9" lengthAdjust="spacingAndGlyphs" >Investigación Hidrográfica y Oceanográfica de la</text>
<text x="1933.6" y="520.9" font-size="10.80" textLength="177.7" lengthAdjust="spacingAndGlyphs" >Zona Económica Exclusiva Española</text>
<rect x="1928.5" y="564.5" width="281.0" height="58.0" fill="#fff" stroke="#909090" stroke-width="1"/>
<text x="1934" y="584" font-size="10.19" textLength="228.2" lengthAdjust="spacingAndGlyphs" >El procesado de los datos, ha sido realizado por la</text>
<text x="1934" y="595.8" font-size="10.19" textLength="247" lengthAdjust="spacingAndGlyphs" xml:space="preserve">Sección de Geofísica del  Real Instituto y Observatorio</text>
<text x="1937.1" y="607.6" font-size="10.17" textLength="214.2" lengthAdjust="spacingAndGlyphs" >de la Armada en San Fernando (Cádiz) - R.0.A.</text>
<rect x="1924.5" y="659.5" width="282.0" height="76.0" fill="#fff" stroke="#909090" stroke-width="1"/>
<text x="1932.2" y="676.4" font-size="10.82" textLength="187.0" lengthAdjust="spacingAndGlyphs" >Participaron además en las campañas:</text>
<text x="1932.2" y="688.2" font-size="10.82" textLength="269.5" lengthAdjust="spacingAndGlyphs" >Universidad Complutense Madrid, Facultad de Geología</text>
<text x="1932.2" y="700" font-size="10.81" textLength="153.8" lengthAdjust="spacingAndGlyphs" >Real Observatorio de la Armada</text>
<text x="1932.2" y="711.9" font-size="10.82" textLength="209.1" lengthAdjust="spacingAndGlyphs" >Instituto Tecnológico Geominero de España</text>
<text x="1932.2" y="723.7" font-size="10.83" textLength="249.1" lengthAdjust="spacingAndGlyphs" >Universidad de Cádiz, Facultad de Ciencias del Mar</text>
<text x="1985.9" y="771.7" font-size="10.51" textLength="165.2" lengthAdjust="spacingAndGlyphs" >MODELO DIGITAL DEL TERRENO</text>
<rect x="1925.5" y="792.5" width="280.0" height="202.0" fill="#fff" stroke="#909090" stroke-width="1"/>
<defs><linearGradient id="dtm" x1="0" y1="0" x2="0" y2="1"><stop offset="0" stop-color="#1A7FBE"/><stop offset="0.45" stop-color="#1FA9B4"/><stop offset="1" stop-color="#22C4D4"/></linearGradient><radialGradient id="dtm2" cx="0.45" cy="0.15" r="0.6"><stop offset="0" stop-color="#1566B4" stop-opacity="0.6"/><stop offset="1" stop-color="#1566B4" stop-opacity="0"/></radialGradient><radialGradient id="dtm4" cx="0.72" cy="0.98" r="0.42"><stop offset="0" stop-color="#25E4F4" stop-opacity="0.85"/><stop offset="1" stop-color="#25E4F4" stop-opacity="0"/></radialGradient><linearGradient id="dtm3" x1="0" y1="0" x2="1" y2="0"><stop offset="0" stop-color="#20B8A4" stop-opacity="0.85"/><stop offset="0.3" stop-color="#20B8A4" stop-opacity="0"/><stop offset="0.75" stop-color="#18B09C" stop-opacity="0"/><stop offset="1" stop-color="#18B09C" stop-opacity="0.8"/></linearGradient></defs>
<path d="M1963.2,837.3 L2018.5,841.6 L2077.7,842.8 L2167.5,839.2 L2174.4,853.1 L2180.4,874.8 L2188.3,900.4 L2196.2,935.0 L2077.7,938.9 L1986.9,934.0 L1986.9,931.0 L1971.1,931.0 L1968.1,926.1 L1974.0,912.7 L2022.4,912.7 L2023.4,886.6 L2014.5,882.7 L1962.2,849.1Z" fill="url(#dtm)"/><path d="M1963.2,837.3 L2018.5,841.6 L2077.7,842.8 L2167.5,839.2 L2174.4,853.1 L2180.4,874.8 L2188.3,900.4 L2196.2,935.0 L2077.7,938.9 L1986.9,934.0 L1986.9,931.0 L1971.1,931.0 L1968.1,926.1 L1974.0,912.7 L2022.4,912.7 L2023.4,886.6 L2014.5,882.7 L1962.2,849.1Z" fill="url(#dtm2)"/><path d="M1963.2,837.3 L2018.5,841.6 L2077.7,842.8 L2167.5,839.2 L2174.4,853.1 L2180.4,874.8 L2188.3,900.4 L2196.2,935.0 L2077.7,938.9 L1986.9,934.0 L1986.9,931.0 L1971.1,931.0 L1968.1,926.1 L1974.0,912.7 L2022.4,912.7 L2023.4,886.6 L2014.5,882.7 L1962.2,849.1Z" fill="url(#dtm3)"/><path d="M1963.2,837.3 L2018.5,841.6 L2077.7,842.8 L2167.5,839.2 L2174.4,853.1 L2180.4,874.8 L2188.3,900.4 L2196.2,935.0 L2077.7,938.9 L1986.9,934.0 L1986.9,931.0 L1971.1,931.0 L1968.1,926.1 L1974.0,912.7 L2022.4,912.7 L2023.4,886.6 L2014.5,882.7 L1962.2,849.1Z" fill="url(#dtm4)"/>
<path d="M2120.1,851.7 C2121.2,850.2 2122.6,847.8 2127.7,846.7 C2132.8,845.5 2145.7,844.4 2150.5,844.8 C2155.4,845.2 2154.3,848.2 2156.9,849.0 C2159.4,849.7 2163.3,848.8 2165.7,849.5 C2168.1,850.1 2172.1,851.7 2171.4,853.0 C2170.8,854.3 2165.2,856.3 2161.9,857.4 C2158.6,858.6 2155.4,858.9 2151.8,860.0 C2148.2,861.0 2143.5,863.0 2140.4,863.8 C2137.2,864.6 2135.1,865.1 2132.8,864.7 C2130.5,864.2 2128.3,862.3 2126.4,860.9 C2124.5,859.4 2122.4,857.3 2121.4,855.8 C2120.3,854.3 2119.1,853.3 2120.1,851.7Z" fill="#fff"/>
<path d="M2134.7,868.2 L2139.1,865.7 L2145.4,865.0 L2151.8,859.3 L2159.4,858.7 L2165.7,856.8 L2174.0,854.3 L2176.5,861.9 L2179.0,870.7 L2178.4,874.5 L2173.3,875.8 L2169.5,877.1 L2168.3,882.1 L2163.2,884.0 L2159.4,880.9 L2153.1,879.0 L2148.0,878.3 L2140.4,879.0 L2139.1,874.5 L2135.9,872.0Z" fill="#F7C400"/>
<path d="M2171.4,886.6 L2174.0,891.0 L2178.4,894.8 L2186.6,899.3 L2182.2,901.2 L2175.2,902.4 L2170.2,905.0 L2167.6,902.4 L2168.3,896.1 L2172.1,893.6Z" fill="#F7C400"/>
<path d="M1968.1,877.7 L1980.0,876.7 L1984.9,880.7 L1983.9,884.6 L1975.0,881.7Z" fill="#1FB0A8"/>
<path d="M1957.3,878.7 L1968.1,879.7 L1975.0,880.7 L1982.9,883.7 L1984.9,889.6 L1989.8,891.5 L1987.9,895.5 L1979.0,896.5 L1973.1,900.4 L1963.2,904.4 L1952.3,906.4 L1956.3,882.7Z" fill="#F7C400"/>
<path d="M1965.2,825.0L1945.0,947.8" stroke="#FFE27A" stroke-width="2.6"/>
<path d="M1966.4,825.0L1946.2,947.8" stroke="#222" stroke-width="0.9" stroke-dasharray="7 5"/>
<path d="M1968.1,937.0 L1973.1,903.4 L1982.9,938.9 L1985.9,901.4" fill="none" stroke="#2058E0" stroke-width="1.15"/>
<path d="M1965.2,910.3 L1980.9,894.9 L1993.2,910.3" fill="none" stroke="#2058E0" stroke-width="1.15"/>
<path d="M1945.0,937.4 L2200.1,933.0" stroke="#7FE8F0" stroke-width="0.6" fill="none"/>
<path d="M1945.0,947.8 L2200.1,943.9" stroke="#E87860" stroke-width="0.6" fill="none"/>
<path d="M2004.6,945.4 L2004.6,943.5" stroke="#444" stroke-width="0.5"/>
<path d="M2062.5,945.4 L2062.5,943.5" stroke="#444" stroke-width="0.5"/>
<path d="M2120.1,945.4 L2120.1,943.5" stroke="#444" stroke-width="0.5"/>
<path d="M2177.4,945.4 L2177.4,943.5" stroke="#444" stroke-width="0.5"/>
<text x="1937.1" y="843.2" class="se" font-size="5.6" textLength="22.5" lengthAdjust="spacingAndGlyphs" >4350000</text>
<text x="1932.6" y="868.8" class="se" font-size="5.6" textLength="22.5" lengthAdjust="spacingAndGlyphs" >4320000</text>
<text x="1928.2" y="894.5" class="se" font-size="5.6" textLength="22.5" lengthAdjust="spacingAndGlyphs" >4290000</text>
<text x="1925.7" y="922.2" class="se" font-size="5.6" textLength="22.5" lengthAdjust="spacingAndGlyphs" >4260000</text>
<text x="1929.6" y="955.7" font-size="5.4" textLength="33" lengthAdjust="spacingAndGlyphs" style="fill:#444">240000</text>
<text x="1986.9" y="954.7" font-size="5.4" textLength="33" lengthAdjust="spacingAndGlyphs" style="fill:#444">270000</text>
<text x="2045.1" y="954.3" font-size="5.4" textLength="33" lengthAdjust="spacingAndGlyphs" style="fill:#444">300000</text>
<text x="2101.8" y="953.3" font-size="5.4" textLength="33" lengthAdjust="spacingAndGlyphs" style="fill:#444">330000</text>
<text x="2159.0" y="952.8" font-size="5.4" textLength="33" lengthAdjust="spacingAndGlyphs" style="fill:#444">360000</text>
<path d="M1936.5,937.9 L1945.8,937.9" stroke="#333" stroke-width="0.7"/>
<path d="M1936.5,940.3 L1945.8,940.3" stroke="#333" stroke-width="0.7"/>
<path d="M1936.5,942.7 L1945.8,942.7" stroke="#333" stroke-width="0.7"/>
<path d="M1936.5,945.1 L1945.8,945.1" stroke="#333" stroke-width="0.7"/>
<text x="2001.3" y="1030.3" font-size="10.76" textLength="123.8" lengthAdjust="spacingAndGlyphs" >Fuentes complementarias</text>
<rect x="1992.5" y="1047.5" width="143.0" height="111.0" fill="#fff" stroke="#909090" stroke-width="1"/>
<g clip-path="url(#fc)"><defs><clipPath id="fc"><rect x="1992.7" y="1047.7" width="142.3" height="110"/></clipPath></defs>
<path d="M1988.5,1090.1 L1999.1,1090.8 L2005.1,1092.3 L2010.4,1094.2 L2015.0,1096.5 L2018.8,1098.8 L2020.3,1101.0 L2023.3,1101.8 L2024.5,1104.1 L2022.6,1105.6 L2018.8,1106.3 L2015.0,1107.8 L2011.2,1110.1 L2007.4,1111.6 L2003.6,1113.1 L2001.4,1115.4 L1999.8,1113.9 L1996.1,1115.4 L1988.5,1115.4Z" fill="#F7C400"/>
<path d="M2138.4,1058.3 L2130.8,1058.6 L2125.5,1060.1 L2120.2,1061.3 L2115.7,1062.8 L2111.1,1063.9 L2108.1,1065.8 L2107.0,1068.5 L2103.6,1069.6 L2099.8,1069.2 L2099.0,1071.5 L2100.9,1073.8 L2101.3,1076.8 L2102.1,1079.1 L2105.1,1081.3 L2109.6,1082.1 L2114.2,1081.7 L2118.7,1081.3 L2121.7,1082.9 L2124.8,1083.2 L2126.3,1085.5 L2127.0,1082.1 L2128.6,1079.8 L2131.6,1078.7 L2138.4,1077.2Z" fill="#F7C400"/>
<path d="M2138.4,1113.5 L2132.3,1112.4 L2130.1,1110.9 L2127.0,1107.8 L2124.8,1105.6 L2123.3,1103.3 L2121.4,1102.2 L2121.7,1104.8 L2123.3,1106.3 L2121.7,1109.0 L2118.7,1110.1 L2118.0,1112.4 L2119.5,1115.4 L2120.2,1119.2 L2122.5,1119.6 L2125.5,1117.7 L2128.6,1115.8 L2131.6,1115.0 L2138.4,1116.6Z" fill="#F7C400"/>
</g>
<text x="2044.7" y="1082.8" font-size="19.94" textLength="13.3" lengthAdjust="spacingAndGlyphs" >A</text>
<text x="2055" y="1126.6" font-size="20.3" textLength="11.6" lengthAdjust="spacingAndGlyphs" >B</text>
<defs><marker id="ah" markerUnits="userSpaceOnUse" markerWidth="6" markerHeight="4" refX="5.2" refY="2" orient="auto"><path d="M0,0L5.4,2L0,4Z" fill="#111"/></marker></defs>
<path d="M2057.9,1133.5L2024.8,1103.9" stroke="#222" stroke-width="0.6" marker-end="url(#ah)"/>
<path d="M2057.9,1133.5L2119.5,1087.7" stroke="#222" stroke-width="0.6" marker-end="url(#ah)"/>
<path d="M2057.9,1133.5L2115.2,1117.7" stroke="#222" stroke-width="0.6" marker-end="url(#ah)"/>
<text x="2003" y="1147.7" font-size="6.65" textLength="120.5" lengthAdjust="spacingAndGlyphs" style="fill:#333">A: Datos procedentes del Programa ZEE</text>
<text x="2003" y="1155" font-size="6.63" textLength="122" lengthAdjust="spacingAndGlyphs" style="fill:#333">B: Datos de la costa procedentes del IGN</text>
<text x="2010" y="1196.3" class="b" font-size="10.74" textLength="135.4" lengthAdjust="spacingAndGlyphs" >DISTRIBUCIÓN DE HOJAS</text>
<rect x="1926.5" y="1208.5" width="279.0" height="159.0" fill="#fff" stroke="#909090" stroke-width="1"/>
<defs><clipPath id="hc"><rect x="1926.8" y="1208.9" width="278.3" height="157.6"/></clipPath><radialGradient id="lav" cx="0.5" cy="0.5" r="0.75"><stop offset="0" stop-color="#ECEAF6"/><stop offset="0.6" stop-color="#C9C4E4"/><stop offset="1" stop-color="#ACA4D4"/></radialGradient></defs>
<g clip-path="url(#hc)">
<path d="M1925.2,1207.4 L2039.7,1207.4 L2035.5,1215.8 L2026.0,1220.0 L2013.4,1223.1 L2000.8,1228.4 L1992.4,1233.6 L1988.2,1242.0 L1983.0,1250.4 L1977.7,1254.6 L1972.5,1263.0 L1967.2,1273.5 L1960.9,1284.0 L1953.6,1294.5 L1949.4,1302.9 L1947.3,1311.3 L1950.4,1319.7 L1956.7,1328.1 L1960.9,1334.4 L1967.2,1336.5 L1968.3,1340.7 L1963.0,1344.9 L1954.6,1349.1 L1947.3,1355.4 L1943.1,1361.7 L1943.1,1368.0 L1925.2,1368.0Z" fill="#F7C400"/>
<rect x="1961.5" y="1306.5" width="54.0" height="38.9" fill="url(#lav)"/>
<path d="M1961.5,1221.0V1345.3M2015.5,1221.0V1345.3M2069.5,1221.0V1345.3M2122.6,1221.0V1345.3M2175.2,1221.0V1345.3M1961.5,1221.0H2175.2M1961.5,1264.5H2175.2M1961.5,1306.5H2175.2M1961.5,1345.3H2175.2" stroke="#8a8a8a" stroke-width="0.6" fill="none"/>
<path d="M1935.3,1248.7L2081.1,1247.9M1935.3,1280.9L2084.8,1279.4M1935.3,1313.4L2084.8,1312.0M1935.3,1346.0L2086.9,1344.9M1935.3,1248.7L1935.3,1346.0M1984.0,1248.3L1985.7,1346.0M2032.3,1248.3L2034.4,1345.3M2081.1,1247.9L2082.3,1267.2M2081.7,1267.2L2131.0,1264.1M2131.0,1264.1L2133.1,1296.6M2082.3,1298.7L2133.1,1296.6M2082.3,1267.2L2086.9,1344.9M2086.9,1330.2L2137.3,1328.1M2133.1,1296.6L2136.3,1328.1" stroke="#7FDc90" stroke-width="0.5" fill="none"/>
<path d="M2044.9,1296.2 L2051.2,1292.4 L2056.5,1286.1 L2065.9,1280.9 L2074.3,1278.1 L2072.2,1283.0 L2077.5,1287.2 L2082.7,1286.1 L2084.8,1289.3 L2082.7,1296.6 L2078.5,1302.9 L2075.4,1309.2 L2071.2,1311.3 L2067.0,1307.1 L2061.7,1307.1 L2055.4,1300.8 L2050.2,1300.8Z" fill="#F7C400"/>
<path d="M2095.3,1272.5 L2101.6,1270.4 L2107.9,1271.0 L2112.1,1274.6 L2114.7,1278.8 L2111.1,1279.8 L2106.9,1277.7 L2100.6,1277.3 L2096.4,1275.6Z" fill="#F7C400"/>
<path d="M2005.0,1328.1 L2009.2,1323.9 L2014.5,1321.4 L2019.7,1321.8 L2018.7,1326.0 L2014.5,1329.2 L2012.4,1332.3 L2007.1,1333.4 L2004.6,1331.3Z" fill="#F7C400"/>
<path d="M2011.3,1340.7 L2014.5,1337.6 L2015.5,1340.7 L2018.7,1342.8 L2013.4,1343.9Z" fill="#F7C400"/>
</g>
<text x="1977.7" y="1245.2" font-size="10.32" textLength="17.2" lengthAdjust="spacingAndGlyphs" style="fill:#2B2890">M 5</text>
<text x="2031.7" y="1245.2" font-size="10.68" textLength="17.8" lengthAdjust="spacingAndGlyphs" style="fill:#2B2890">M 6</text>
<text x="2086.5" y="1245.2" font-size="10.08" textLength="16.8" lengthAdjust="spacingAndGlyphs" style="fill:#2B2890">M 7</text>
<text x="2139.9" y="1245.2" font-size="10.44" textLength="17.4" lengthAdjust="spacingAndGlyphs" style="fill:#2B2890">M 8</text>
<text x="1977.1" y="1288.6" font-size="10.44" textLength="17.4" lengthAdjust="spacingAndGlyphs" style="fill:#2B2890">M 9</text>
<text x="2022.9" y="1288.6" font-size="10.57" textLength="23.5" lengthAdjust="spacingAndGlyphs" style="fill:#2B2890">M 10</text>
<text x="2084.8" y="1288.6" font-size="10.24" textLength="22" lengthAdjust="spacingAndGlyphs" style="fill:#2B2890">M 11</text>
<text x="2136.7" y="1288.6" font-size="10.66" textLength="23.7" lengthAdjust="spacingAndGlyphs" style="fill:#2B2890">M 12</text>
<text x="1972.5" y="1332.7" font-size="10.39" textLength="23.1" lengthAdjust="spacingAndGlyphs" style="fill:#2B2890">M 13</text>
<text x="2030.2" y="1332.7" font-size="10.39" textLength="23.1" lengthAdjust="spacingAndGlyphs" style="fill:#2B2890">M 14</text>
<text x="2088.6" y="1332.7" font-size="10.39" textLength="23.1" lengthAdjust="spacingAndGlyphs" style="fill:#2B2890">M 15</text>
<text x="2137.3" y="1332.7" font-size="10.39" textLength="23.1" lengthAdjust="spacingAndGlyphs" style="fill:#2B2890">M 16</text>
<text x="1942.0" y="1256.3" font-size="5.4" style="fill:#22A060">48</text>
<text x="1985.7" y="1254.6" font-size="5.4" style="fill:#22A060">48E</text>
<text x="2033.8" y="1256.7" font-size="5.4" style="fill:#22A060">57N</text>
<text x="2084.4" y="1274.1" font-size="5.4" style="fill:#22A060">49</text>
<text x="1937.8" y="1289.3" font-size="5.4" style="fill:#22A060">56</text>
<text x="1988.2" y="1294.1" font-size="5.4" style="fill:#22A060">56E</text>
<text x="2035.1" y="1293.9" font-size="5.4" style="fill:#22A060">57</text>
<text x="2086.5" y="1305.7" font-size="5.4" style="fill:#22A060">49S</text>
<text x="1938.9" y="1322.9" font-size="5.4" style="fill:#22A060">64</text>
<text x="1988.6" y="1320.8" font-size="5.4" style="fill:#22A060">65</text>
<text x="2037.6" y="1320.8" font-size="5.4" style="fill:#22A060">66</text>
<text x="2178.3" y="1225.8" font-size="5.31" textLength="26" lengthAdjust="spacingAndGlyphs" style="fill:#333">4555000 N</text>
<text x="2178.3" y="1265.5" font-size="4.9" textLength="26" lengthAdjust="spacingAndGlyphs" style="fill:#333">4455000N</text>
<text x="2178.3" y="1306.5" font-size="5.31" textLength="26" lengthAdjust="spacingAndGlyphs" style="fill:#333">4355000 N</text>
<text x="2178.3" y="1349.5" font-size="5.31" textLength="26" lengthAdjust="spacingAndGlyphs" style="fill:#333">4255000 N</text>
<text x="1949.8" y="1359.0" font-size="5.37" textLength="23" lengthAdjust="spacingAndGlyphs" style="fill:#333">240000 E</text>
<text x="2005.0" y="1359.0" font-size="5.37" textLength="23" lengthAdjust="spacingAndGlyphs" style="fill:#333">370000 E</text>
<text x="2059.0" y="1359.0" font-size="5.37" textLength="23" lengthAdjust="spacingAndGlyphs" style="fill:#333">500000 E</text>
<text x="2112.8" y="1359.0" font-size="5.37" textLength="23" lengthAdjust="spacingAndGlyphs" style="fill:#333">630000 E</text>
<text x="2163.6" y="1359.0" font-size="5.37" textLength="23" lengthAdjust="spacingAndGlyphs" style="fill:#333">760000 E</text>
<rect x="1945.5" y="1376.5" width="17.0" height="8.0" fill="#fff" stroke="#9FE3B0" stroke-width="0.7"/>
<rect x="1945.5" y="1389.5" width="17.0" height="8.0" fill="#fff" stroke="#B0ACD8" stroke-width="0.7"/>
<text x="1969.7" y="1382.7" font-size="8.72" textLength="214.5" lengthAdjust="spacingAndGlyphs" >HOJAS ESCALA 1:200 000 Mapa Topográfico Nacional</text>
<text x="1969.7" y="1395.3" font-size="8.70" textLength="171.2" lengthAdjust="spacingAndGlyphs" >HOJAS ESCALA 1:200 000 Mapa de la ZEE</text>
<text x="1977.3" y="1430.6" class="b" font-size="10.87" textLength="159.6" lengthAdjust="spacingAndGlyphs" >REFERENCIA BIBLIOGRÁFICA</text>
<rect x="1926.5" y="1438.5" width="280.0" height="34.0" fill="#fff" stroke="#909090" stroke-width="1"/>
<text x="1938.9" y="1455.2" font-size="10.46" textLength="251" lengthAdjust="spacingAndGlyphs" xml:space="preserve">IEO -  IHM - ROA  (1999). Zona Económica Exclusiva.</text>
<text x="1939.5" y="1466.7" font-size="10.86" textLength="233.5" lengthAdjust="spacingAndGlyphs" >Hoja M 13. Mapa de Anomalías Geomagnéticas.</text>
<g stroke="#999" stroke-width="0.5" fill="none"><rect x="1888.2" y="523.7" width="3.2" height="564"/>
</g>
<rect x="1888.4" y="551.0" width="2.8" height="67.1" fill="#dcdcdc"/>
<rect x="1888.4" y="685.2" width="2.8" height="67.1" fill="#dcdcdc"/>
<rect x="1888.4" y="819.4" width="2.8" height="67.1" fill="#dcdcdc"/>
<rect x="1888.4" y="953.6" width="2.8" height="67.1" fill="#dcdcdc"/>
<text x="1893.5" y="521.5" font-size="4.6" transform="rotate(90 1893.5 521.5)" style="fill:#333">2</text>
<text x="1893.5" y="549" font-size="4.6" transform="rotate(90 1893.5 549)" style="fill:#333">0</text>
<text x="1893.5" y="683" font-size="4.6" transform="rotate(90 1893.5 683)" style="fill:#333">10</text>
<text x="1893.5" y="819" font-size="4.6" transform="rotate(90 1893.5 819)" style="fill:#333">20</text>
<text x="1893.5" y="954" font-size="4.6" transform="rotate(90 1893.5 954)" style="fill:#333">30</text>
<text x="1893.5" y="1088" font-size="4.6" transform="rotate(90 1893.5 1088)" style="fill:#333">40</text>
<text x="1878.5" y="1085" font-size="4.6" transform="rotate(90 1878.5 1085)" style="fill:#333">km</text>
</svg></body></html>
